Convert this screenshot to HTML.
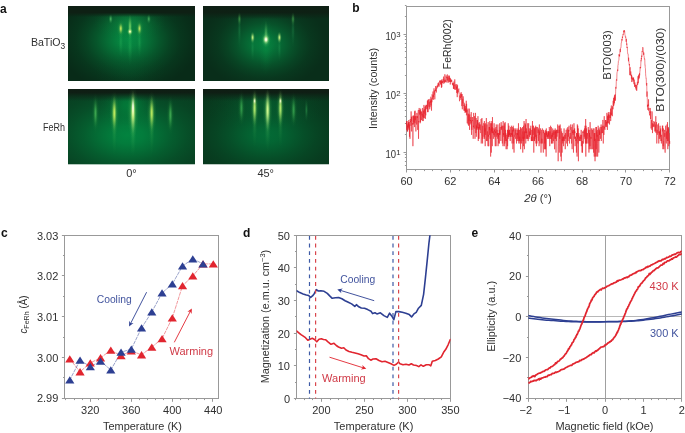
<!DOCTYPE html>
<html><head><meta charset="utf-8"><style>html,body{margin:0;padding:0;background:#fff;width:685px;height:433px;overflow:hidden}svg{display:block;will-change:transform}text{font-family:"Liberation Sans",sans-serif}</style></head>
<body><svg width="685" height="433" viewBox="0 0 685 433" font-family='"Liberation Sans", sans-serif'><defs><clipPath id="clipTL"><rect x="68" y="6" width="127" height="75"/></clipPath><radialGradient id="rg1"><stop offset="0" stop-color="#059b4a" stop-opacity="0.850"/><stop offset="0.15" stop-color="#059b4a" stop-opacity="0.765"/><stop offset="0.3" stop-color="#059b4a" stop-opacity="0.578"/><stop offset="0.45" stop-color="#059b4a" stop-opacity="0.383"/><stop offset="0.6" stop-color="#059b4a" stop-opacity="0.221"/><stop offset="0.75" stop-color="#059b4a" stop-opacity="0.102"/><stop offset="0.9" stop-color="#059b4a" stop-opacity="0.034"/><stop offset="1" stop-color="#059b4a" stop-opacity="0.000"/></radialGradient><radialGradient id="rg2"><stop offset="0" stop-color="#056432" stop-opacity="0.200"/><stop offset="0.15" stop-color="#056432" stop-opacity="0.180"/><stop offset="0.3" stop-color="#056432" stop-opacity="0.136"/><stop offset="0.45" stop-color="#056432" stop-opacity="0.090"/><stop offset="0.6" stop-color="#056432" stop-opacity="0.052"/><stop offset="0.75" stop-color="#056432" stop-opacity="0.024"/><stop offset="0.9" stop-color="#056432" stop-opacity="0.008"/><stop offset="1" stop-color="#056432" stop-opacity="0.000"/></radialGradient><radialGradient id="rg3"><stop offset="0" stop-color="#0f9b48" stop-opacity="0.500"/><stop offset="0.15" stop-color="#0f9b48" stop-opacity="0.450"/><stop offset="0.3" stop-color="#0f9b48" stop-opacity="0.340"/><stop offset="0.45" stop-color="#0f9b48" stop-opacity="0.225"/><stop offset="0.6" stop-color="#0f9b48" stop-opacity="0.130"/><stop offset="0.75" stop-color="#0f9b48" stop-opacity="0.060"/><stop offset="0.9" stop-color="#0f9b48" stop-opacity="0.020"/><stop offset="1" stop-color="#0f9b48" stop-opacity="0.000"/></radialGradient><linearGradient id="bandTL" x1="0" y1="0" x2="0" y2="1"><stop offset="0" stop-color="#0e2014" stop-opacity="1"/><stop offset="0.6" stop-color="#0e2014" stop-opacity="1"/><stop offset="1" stop-color="#0e2014" stop-opacity="0"/></linearGradient><radialGradient id="rg4"><stop offset="0" stop-color="#30c060" stop-opacity="0.300"/><stop offset="0.15" stop-color="#30c060" stop-opacity="0.270"/><stop offset="0.3" stop-color="#30c060" stop-opacity="0.204"/><stop offset="0.45" stop-color="#30c060" stop-opacity="0.135"/><stop offset="0.6" stop-color="#30c060" stop-opacity="0.078"/><stop offset="0.75" stop-color="#30c060" stop-opacity="0.036"/><stop offset="0.9" stop-color="#30c060" stop-opacity="0.012"/><stop offset="1" stop-color="#30c060" stop-opacity="0.000"/></radialGradient><radialGradient id="rg5"><stop offset="0" stop-color="#30c060" stop-opacity="0.300"/><stop offset="0.15" stop-color="#30c060" stop-opacity="0.270"/><stop offset="0.3" stop-color="#30c060" stop-opacity="0.204"/><stop offset="0.45" stop-color="#30c060" stop-opacity="0.135"/><stop offset="0.6" stop-color="#30c060" stop-opacity="0.078"/><stop offset="0.75" stop-color="#30c060" stop-opacity="0.036"/><stop offset="0.9" stop-color="#30c060" stop-opacity="0.012"/><stop offset="1" stop-color="#30c060" stop-opacity="0.000"/></radialGradient><radialGradient id="rg6"><stop offset="0" stop-color="#30c060" stop-opacity="0.300"/><stop offset="0.15" stop-color="#30c060" stop-opacity="0.270"/><stop offset="0.3" stop-color="#30c060" stop-opacity="0.204"/><stop offset="0.45" stop-color="#30c060" stop-opacity="0.135"/><stop offset="0.6" stop-color="#30c060" stop-opacity="0.078"/><stop offset="0.75" stop-color="#30c060" stop-opacity="0.036"/><stop offset="0.9" stop-color="#30c060" stop-opacity="0.012"/><stop offset="1" stop-color="#30c060" stop-opacity="0.000"/></radialGradient><radialGradient id="rg7"><stop offset="0" stop-color="#60d070" stop-opacity="0.700"/><stop offset="0.15" stop-color="#60d070" stop-opacity="0.630"/><stop offset="0.3" stop-color="#60d070" stop-opacity="0.476"/><stop offset="0.45" stop-color="#60d070" stop-opacity="0.315"/><stop offset="0.6" stop-color="#60d070" stop-opacity="0.182"/><stop offset="0.75" stop-color="#60d070" stop-opacity="0.084"/><stop offset="0.9" stop-color="#60d070" stop-opacity="0.028"/><stop offset="1" stop-color="#60d070" stop-opacity="0.000"/></radialGradient><radialGradient id="rg8"><stop offset="0" stop-color="#60d070" stop-opacity="0.600"/><stop offset="0.15" stop-color="#60d070" stop-opacity="0.540"/><stop offset="0.3" stop-color="#60d070" stop-opacity="0.408"/><stop offset="0.45" stop-color="#60d070" stop-opacity="0.270"/><stop offset="0.6" stop-color="#60d070" stop-opacity="0.156"/><stop offset="0.75" stop-color="#60d070" stop-opacity="0.072"/><stop offset="0.9" stop-color="#60d070" stop-opacity="0.024"/><stop offset="1" stop-color="#60d070" stop-opacity="0.000"/></radialGradient><radialGradient id="rg9"><stop offset="0" stop-color="#60c050" stop-opacity="0.500"/><stop offset="0.15" stop-color="#60c050" stop-opacity="0.450"/><stop offset="0.3" stop-color="#60c050" stop-opacity="0.340"/><stop offset="0.45" stop-color="#60c050" stop-opacity="0.225"/><stop offset="0.6" stop-color="#60c050" stop-opacity="0.130"/><stop offset="0.75" stop-color="#60c050" stop-opacity="0.060"/><stop offset="0.9" stop-color="#60c050" stop-opacity="0.020"/><stop offset="1" stop-color="#60c050" stop-opacity="0.000"/></radialGradient><radialGradient id="rg10"><stop offset="0" stop-color="#60c050" stop-opacity="0.500"/><stop offset="0.15" stop-color="#60c050" stop-opacity="0.450"/><stop offset="0.3" stop-color="#60c050" stop-opacity="0.340"/><stop offset="0.45" stop-color="#60c050" stop-opacity="0.225"/><stop offset="0.6" stop-color="#60c050" stop-opacity="0.130"/><stop offset="0.75" stop-color="#60c050" stop-opacity="0.060"/><stop offset="0.9" stop-color="#60c050" stop-opacity="0.020"/><stop offset="1" stop-color="#60c050" stop-opacity="0.000"/></radialGradient><radialGradient id="rg11"><stop offset="0" stop-color="#d0f060" stop-opacity="0.900"/><stop offset="0.15" stop-color="#d0f060" stop-opacity="0.810"/><stop offset="0.3" stop-color="#d0f060" stop-opacity="0.612"/><stop offset="0.45" stop-color="#d0f060" stop-opacity="0.405"/><stop offset="0.6" stop-color="#d0f060" stop-opacity="0.234"/><stop offset="0.75" stop-color="#d0f060" stop-opacity="0.108"/><stop offset="0.9" stop-color="#d0f060" stop-opacity="0.036"/><stop offset="1" stop-color="#d0f060" stop-opacity="0.000"/></radialGradient><radialGradient id="rg12"><stop offset="0" stop-color="#c0e860" stop-opacity="0.900"/><stop offset="0.15" stop-color="#c0e860" stop-opacity="0.810"/><stop offset="0.3" stop-color="#c0e860" stop-opacity="0.612"/><stop offset="0.45" stop-color="#c0e860" stop-opacity="0.405"/><stop offset="0.6" stop-color="#c0e860" stop-opacity="0.234"/><stop offset="0.75" stop-color="#c0e860" stop-opacity="0.108"/><stop offset="0.9" stop-color="#c0e860" stop-opacity="0.036"/><stop offset="1" stop-color="#c0e860" stop-opacity="0.000"/></radialGradient><radialGradient id="rg13"><stop offset="0" stop-color="#90e870" stop-opacity="0.750"/><stop offset="0.15" stop-color="#90e870" stop-opacity="0.675"/><stop offset="0.3" stop-color="#90e870" stop-opacity="0.510"/><stop offset="0.45" stop-color="#90e870" stop-opacity="0.338"/><stop offset="0.6" stop-color="#90e870" stop-opacity="0.195"/><stop offset="0.75" stop-color="#90e870" stop-opacity="0.090"/><stop offset="0.9" stop-color="#90e870" stop-opacity="0.030"/><stop offset="1" stop-color="#90e870" stop-opacity="0.000"/></radialGradient><radialGradient id="rg14"><stop offset="0" stop-color="#d8ff90" stop-opacity="1.000"/><stop offset="0.15" stop-color="#d8ff90" stop-opacity="0.900"/><stop offset="0.3" stop-color="#d8ff90" stop-opacity="0.680"/><stop offset="0.45" stop-color="#d8ff90" stop-opacity="0.450"/><stop offset="0.6" stop-color="#d8ff90" stop-opacity="0.260"/><stop offset="0.75" stop-color="#d8ff90" stop-opacity="0.120"/><stop offset="0.9" stop-color="#d8ff90" stop-opacity="0.040"/><stop offset="1" stop-color="#d8ff90" stop-opacity="0.000"/></radialGradient><radialGradient id="rg15"><stop offset="0" stop-color="#ffffe0" stop-opacity="0.900"/><stop offset="0.15" stop-color="#ffffe0" stop-opacity="0.810"/><stop offset="0.3" stop-color="#ffffe0" stop-opacity="0.612"/><stop offset="0.45" stop-color="#ffffe0" stop-opacity="0.405"/><stop offset="0.6" stop-color="#ffffe0" stop-opacity="0.234"/><stop offset="0.75" stop-color="#ffffe0" stop-opacity="0.108"/><stop offset="0.9" stop-color="#ffffe0" stop-opacity="0.036"/><stop offset="1" stop-color="#ffffe0" stop-opacity="0.000"/></radialGradient><clipPath id="clipTR"><rect x="203" y="6" width="126" height="75"/></clipPath><radialGradient id="rg16"><stop offset="0" stop-color="#058c44" stop-opacity="0.850"/><stop offset="0.15" stop-color="#058c44" stop-opacity="0.765"/><stop offset="0.3" stop-color="#058c44" stop-opacity="0.578"/><stop offset="0.45" stop-color="#058c44" stop-opacity="0.383"/><stop offset="0.6" stop-color="#058c44" stop-opacity="0.221"/><stop offset="0.75" stop-color="#058c44" stop-opacity="0.102"/><stop offset="0.9" stop-color="#058c44" stop-opacity="0.034"/><stop offset="1" stop-color="#058c44" stop-opacity="0.000"/></radialGradient><radialGradient id="rg17"><stop offset="0" stop-color="#0a9646" stop-opacity="0.400"/><stop offset="0.15" stop-color="#0a9646" stop-opacity="0.360"/><stop offset="0.3" stop-color="#0a9646" stop-opacity="0.272"/><stop offset="0.45" stop-color="#0a9646" stop-opacity="0.180"/><stop offset="0.6" stop-color="#0a9646" stop-opacity="0.104"/><stop offset="0.75" stop-color="#0a9646" stop-opacity="0.048"/><stop offset="0.9" stop-color="#0a9646" stop-opacity="0.016"/><stop offset="1" stop-color="#0a9646" stop-opacity="0.000"/></radialGradient><linearGradient id="bandTR" x1="0" y1="0" x2="0" y2="1"><stop offset="0" stop-color="#0e2014" stop-opacity="1"/><stop offset="0.5" stop-color="#0e2014" stop-opacity="0.97"/><stop offset="1" stop-color="#0e2014" stop-opacity="0"/></linearGradient><radialGradient id="rg18"><stop offset="0" stop-color="#30b060" stop-opacity="0.250"/><stop offset="0.15" stop-color="#30b060" stop-opacity="0.225"/><stop offset="0.3" stop-color="#30b060" stop-opacity="0.170"/><stop offset="0.45" stop-color="#30b060" stop-opacity="0.113"/><stop offset="0.6" stop-color="#30b060" stop-opacity="0.065"/><stop offset="0.75" stop-color="#30b060" stop-opacity="0.030"/><stop offset="0.9" stop-color="#30b060" stop-opacity="0.010"/><stop offset="1" stop-color="#30b060" stop-opacity="0.000"/></radialGradient><radialGradient id="rg19"><stop offset="0" stop-color="#30b060" stop-opacity="0.250"/><stop offset="0.15" stop-color="#30b060" stop-opacity="0.225"/><stop offset="0.3" stop-color="#30b060" stop-opacity="0.170"/><stop offset="0.45" stop-color="#30b060" stop-opacity="0.113"/><stop offset="0.6" stop-color="#30b060" stop-opacity="0.065"/><stop offset="0.75" stop-color="#30b060" stop-opacity="0.030"/><stop offset="0.9" stop-color="#30b060" stop-opacity="0.010"/><stop offset="1" stop-color="#30b060" stop-opacity="0.000"/></radialGradient><radialGradient id="rg20"><stop offset="0" stop-color="#30b060" stop-opacity="0.250"/><stop offset="0.15" stop-color="#30b060" stop-opacity="0.225"/><stop offset="0.3" stop-color="#30b060" stop-opacity="0.170"/><stop offset="0.45" stop-color="#30b060" stop-opacity="0.113"/><stop offset="0.6" stop-color="#30b060" stop-opacity="0.065"/><stop offset="0.75" stop-color="#30b060" stop-opacity="0.030"/><stop offset="0.9" stop-color="#30b060" stop-opacity="0.010"/><stop offset="1" stop-color="#30b060" stop-opacity="0.000"/></radialGradient><radialGradient id="rg21"><stop offset="0" stop-color="#30b060" stop-opacity="0.250"/><stop offset="0.15" stop-color="#30b060" stop-opacity="0.225"/><stop offset="0.3" stop-color="#30b060" stop-opacity="0.170"/><stop offset="0.45" stop-color="#30b060" stop-opacity="0.113"/><stop offset="0.6" stop-color="#30b060" stop-opacity="0.065"/><stop offset="0.75" stop-color="#30b060" stop-opacity="0.030"/><stop offset="0.9" stop-color="#30b060" stop-opacity="0.010"/><stop offset="1" stop-color="#30b060" stop-opacity="0.000"/></radialGradient><radialGradient id="rg22"><stop offset="0" stop-color="#50b050" stop-opacity="0.600"/><stop offset="0.15" stop-color="#50b050" stop-opacity="0.540"/><stop offset="0.3" stop-color="#50b050" stop-opacity="0.408"/><stop offset="0.45" stop-color="#50b050" stop-opacity="0.270"/><stop offset="0.6" stop-color="#50b050" stop-opacity="0.156"/><stop offset="0.75" stop-color="#50b050" stop-opacity="0.072"/><stop offset="0.9" stop-color="#50b050" stop-opacity="0.024"/><stop offset="1" stop-color="#50b050" stop-opacity="0.000"/></radialGradient><radialGradient id="rg23"><stop offset="0" stop-color="#50b050" stop-opacity="0.600"/><stop offset="0.15" stop-color="#50b050" stop-opacity="0.540"/><stop offset="0.3" stop-color="#50b050" stop-opacity="0.408"/><stop offset="0.45" stop-color="#50b050" stop-opacity="0.270"/><stop offset="0.6" stop-color="#50b050" stop-opacity="0.156"/><stop offset="0.75" stop-color="#50b050" stop-opacity="0.072"/><stop offset="0.9" stop-color="#50b050" stop-opacity="0.024"/><stop offset="1" stop-color="#50b050" stop-opacity="0.000"/></radialGradient><radialGradient id="rg24"><stop offset="0" stop-color="#c0f080" stop-opacity="1.000"/><stop offset="0.15" stop-color="#c0f080" stop-opacity="0.900"/><stop offset="0.3" stop-color="#c0f080" stop-opacity="0.680"/><stop offset="0.45" stop-color="#c0f080" stop-opacity="0.450"/><stop offset="0.6" stop-color="#c0f080" stop-opacity="0.260"/><stop offset="0.75" stop-color="#c0f080" stop-opacity="0.120"/><stop offset="0.9" stop-color="#c0f080" stop-opacity="0.040"/><stop offset="1" stop-color="#c0f080" stop-opacity="0.000"/></radialGradient><radialGradient id="rg25"><stop offset="0" stop-color="#c0f080" stop-opacity="1.000"/><stop offset="0.15" stop-color="#c0f080" stop-opacity="0.900"/><stop offset="0.3" stop-color="#c0f080" stop-opacity="0.680"/><stop offset="0.45" stop-color="#c0f080" stop-opacity="0.450"/><stop offset="0.6" stop-color="#c0f080" stop-opacity="0.260"/><stop offset="0.75" stop-color="#c0f080" stop-opacity="0.120"/><stop offset="0.9" stop-color="#c0f080" stop-opacity="0.040"/><stop offset="1" stop-color="#c0f080" stop-opacity="0.000"/></radialGradient><radialGradient id="rg26"><stop offset="0" stop-color="#70d070" stop-opacity="0.550"/><stop offset="0.15" stop-color="#70d070" stop-opacity="0.495"/><stop offset="0.3" stop-color="#70d070" stop-opacity="0.374"/><stop offset="0.45" stop-color="#70d070" stop-opacity="0.248"/><stop offset="0.6" stop-color="#70d070" stop-opacity="0.143"/><stop offset="0.75" stop-color="#70d070" stop-opacity="0.066"/><stop offset="0.9" stop-color="#70d070" stop-opacity="0.022"/><stop offset="1" stop-color="#70d070" stop-opacity="0.000"/></radialGradient><radialGradient id="rg27"><stop offset="0" stop-color="#a0f090" stop-opacity="0.600"/><stop offset="0.15" stop-color="#a0f090" stop-opacity="0.540"/><stop offset="0.3" stop-color="#a0f090" stop-opacity="0.408"/><stop offset="0.45" stop-color="#a0f090" stop-opacity="0.270"/><stop offset="0.6" stop-color="#a0f090" stop-opacity="0.156"/><stop offset="0.75" stop-color="#a0f090" stop-opacity="0.072"/><stop offset="0.9" stop-color="#a0f090" stop-opacity="0.024"/><stop offset="1" stop-color="#a0f090" stop-opacity="0.000"/></radialGradient><radialGradient id="rg28"><stop offset="0" stop-color="#f8ffb0" stop-opacity="1.000"/><stop offset="0.15" stop-color="#f8ffb0" stop-opacity="0.900"/><stop offset="0.3" stop-color="#f8ffb0" stop-opacity="0.680"/><stop offset="0.45" stop-color="#f8ffb0" stop-opacity="0.450"/><stop offset="0.6" stop-color="#f8ffb0" stop-opacity="0.260"/><stop offset="0.75" stop-color="#f8ffb0" stop-opacity="0.120"/><stop offset="0.9" stop-color="#f8ffb0" stop-opacity="0.040"/><stop offset="1" stop-color="#f8ffb0" stop-opacity="0.000"/></radialGradient><radialGradient id="rg29"><stop offset="0" stop-color="#ffffff" stop-opacity="1.000"/><stop offset="0.15" stop-color="#ffffff" stop-opacity="0.900"/><stop offset="0.3" stop-color="#ffffff" stop-opacity="0.680"/><stop offset="0.45" stop-color="#ffffff" stop-opacity="0.450"/><stop offset="0.6" stop-color="#ffffff" stop-opacity="0.260"/><stop offset="0.75" stop-color="#ffffff" stop-opacity="0.120"/><stop offset="0.9" stop-color="#ffffff" stop-opacity="0.040"/><stop offset="1" stop-color="#ffffff" stop-opacity="0.000"/></radialGradient><clipPath id="clipBL"><rect x="68" y="89" width="127" height="75.5"/></clipPath><radialGradient id="rg30"><stop offset="0" stop-color="#028741" stop-opacity="0.950"/><stop offset="0.15" stop-color="#028741" stop-opacity="0.855"/><stop offset="0.3" stop-color="#028741" stop-opacity="0.646"/><stop offset="0.45" stop-color="#028741" stop-opacity="0.427"/><stop offset="0.6" stop-color="#028741" stop-opacity="0.247"/><stop offset="0.75" stop-color="#028741" stop-opacity="0.114"/><stop offset="0.9" stop-color="#028741" stop-opacity="0.038"/><stop offset="1" stop-color="#028741" stop-opacity="0.000"/></radialGradient><radialGradient id="rg31"><stop offset="0" stop-color="#02823c" stop-opacity="0.800"/><stop offset="0.15" stop-color="#02823c" stop-opacity="0.720"/><stop offset="0.3" stop-color="#02823c" stop-opacity="0.544"/><stop offset="0.45" stop-color="#02823c" stop-opacity="0.360"/><stop offset="0.6" stop-color="#02823c" stop-opacity="0.208"/><stop offset="0.75" stop-color="#02823c" stop-opacity="0.096"/><stop offset="0.9" stop-color="#02823c" stop-opacity="0.032"/><stop offset="1" stop-color="#02823c" stop-opacity="0.000"/></radialGradient><linearGradient id="bandBL" x1="0" y1="0" x2="0" y2="1"><stop offset="0" stop-color="#0f1e14" stop-opacity="1"/><stop offset="0.3" stop-color="#0f1e14" stop-opacity="0.97"/><stop offset="0.6" stop-color="#0f1e14" stop-opacity="0.5"/><stop offset="1" stop-color="#0f1e14" stop-opacity="0"/></linearGradient><radialGradient id="rg32"><stop offset="0" stop-color="#40b050" stop-opacity="0.350"/><stop offset="0.15" stop-color="#40b050" stop-opacity="0.315"/><stop offset="0.3" stop-color="#40b050" stop-opacity="0.238"/><stop offset="0.45" stop-color="#40b050" stop-opacity="0.158"/><stop offset="0.6" stop-color="#40b050" stop-opacity="0.091"/><stop offset="0.75" stop-color="#40b050" stop-opacity="0.042"/><stop offset="0.9" stop-color="#40b050" stop-opacity="0.014"/><stop offset="1" stop-color="#40b050" stop-opacity="0.000"/></radialGradient><radialGradient id="rg33"><stop offset="0" stop-color="#50c060" stop-opacity="0.400"/><stop offset="0.15" stop-color="#50c060" stop-opacity="0.360"/><stop offset="0.3" stop-color="#50c060" stop-opacity="0.272"/><stop offset="0.45" stop-color="#50c060" stop-opacity="0.180"/><stop offset="0.6" stop-color="#50c060" stop-opacity="0.104"/><stop offset="0.75" stop-color="#50c060" stop-opacity="0.048"/><stop offset="0.9" stop-color="#50c060" stop-opacity="0.016"/><stop offset="1" stop-color="#50c060" stop-opacity="0.000"/></radialGradient><radialGradient id="rg34"><stop offset="0" stop-color="#40b050" stop-opacity="0.350"/><stop offset="0.15" stop-color="#40b050" stop-opacity="0.315"/><stop offset="0.3" stop-color="#40b050" stop-opacity="0.238"/><stop offset="0.45" stop-color="#40b050" stop-opacity="0.158"/><stop offset="0.6" stop-color="#40b050" stop-opacity="0.091"/><stop offset="0.75" stop-color="#40b050" stop-opacity="0.042"/><stop offset="0.9" stop-color="#40b050" stop-opacity="0.014"/><stop offset="1" stop-color="#40b050" stop-opacity="0.000"/></radialGradient><radialGradient id="rg35"><stop offset="0" stop-color="#30a040" stop-opacity="0.500"/><stop offset="0.15" stop-color="#30a040" stop-opacity="0.450"/><stop offset="0.3" stop-color="#30a040" stop-opacity="0.340"/><stop offset="0.45" stop-color="#30a040" stop-opacity="0.225"/><stop offset="0.6" stop-color="#30a040" stop-opacity="0.130"/><stop offset="0.75" stop-color="#30a040" stop-opacity="0.060"/><stop offset="0.9" stop-color="#30a040" stop-opacity="0.020"/><stop offset="1" stop-color="#30a040" stop-opacity="0.000"/></radialGradient><radialGradient id="rg36"><stop offset="0" stop-color="#60c050" stop-opacity="0.600"/><stop offset="0.15" stop-color="#60c050" stop-opacity="0.540"/><stop offset="0.3" stop-color="#60c050" stop-opacity="0.408"/><stop offset="0.45" stop-color="#60c050" stop-opacity="0.270"/><stop offset="0.6" stop-color="#60c050" stop-opacity="0.156"/><stop offset="0.75" stop-color="#60c050" stop-opacity="0.072"/><stop offset="0.9" stop-color="#60c050" stop-opacity="0.024"/><stop offset="1" stop-color="#60c050" stop-opacity="0.000"/></radialGradient><radialGradient id="rg37"><stop offset="0" stop-color="#70d060" stop-opacity="0.600"/><stop offset="0.15" stop-color="#70d060" stop-opacity="0.540"/><stop offset="0.3" stop-color="#70d060" stop-opacity="0.408"/><stop offset="0.45" stop-color="#70d060" stop-opacity="0.270"/><stop offset="0.6" stop-color="#70d060" stop-opacity="0.156"/><stop offset="0.75" stop-color="#70d060" stop-opacity="0.072"/><stop offset="0.9" stop-color="#70d060" stop-opacity="0.024"/><stop offset="1" stop-color="#70d060" stop-opacity="0.000"/></radialGradient><radialGradient id="rg38"><stop offset="0" stop-color="#60c050" stop-opacity="0.600"/><stop offset="0.15" stop-color="#60c050" stop-opacity="0.540"/><stop offset="0.3" stop-color="#60c050" stop-opacity="0.408"/><stop offset="0.45" stop-color="#60c050" stop-opacity="0.270"/><stop offset="0.6" stop-color="#60c050" stop-opacity="0.156"/><stop offset="0.75" stop-color="#60c050" stop-opacity="0.072"/><stop offset="0.9" stop-color="#60c050" stop-opacity="0.024"/><stop offset="1" stop-color="#60c050" stop-opacity="0.000"/></radialGradient><radialGradient id="rg39"><stop offset="0" stop-color="#30a040" stop-opacity="0.500"/><stop offset="0.15" stop-color="#30a040" stop-opacity="0.450"/><stop offset="0.3" stop-color="#30a040" stop-opacity="0.340"/><stop offset="0.45" stop-color="#30a040" stop-opacity="0.225"/><stop offset="0.6" stop-color="#30a040" stop-opacity="0.130"/><stop offset="0.75" stop-color="#30a040" stop-opacity="0.060"/><stop offset="0.9" stop-color="#30a040" stop-opacity="0.020"/><stop offset="1" stop-color="#30a040" stop-opacity="0.000"/></radialGradient><radialGradient id="rg40"><stop offset="0" stop-color="#50c060" stop-opacity="0.600"/><stop offset="0.15" stop-color="#50c060" stop-opacity="0.540"/><stop offset="0.3" stop-color="#50c060" stop-opacity="0.408"/><stop offset="0.45" stop-color="#50c060" stop-opacity="0.270"/><stop offset="0.6" stop-color="#50c060" stop-opacity="0.156"/><stop offset="0.75" stop-color="#50c060" stop-opacity="0.072"/><stop offset="0.9" stop-color="#50c060" stop-opacity="0.024"/><stop offset="1" stop-color="#50c060" stop-opacity="0.000"/></radialGradient><radialGradient id="rg41"><stop offset="0" stop-color="#c8f060" stop-opacity="0.950"/><stop offset="0.15" stop-color="#c8f060" stop-opacity="0.855"/><stop offset="0.3" stop-color="#c8f060" stop-opacity="0.646"/><stop offset="0.45" stop-color="#c8f060" stop-opacity="0.427"/><stop offset="0.6" stop-color="#c8f060" stop-opacity="0.247"/><stop offset="0.75" stop-color="#c8f060" stop-opacity="0.114"/><stop offset="0.9" stop-color="#c8f060" stop-opacity="0.038"/><stop offset="1" stop-color="#c8f060" stop-opacity="0.000"/></radialGradient><radialGradient id="rg42"><stop offset="0" stop-color="#e8ff90" stop-opacity="1.000"/><stop offset="0.15" stop-color="#e8ff90" stop-opacity="0.900"/><stop offset="0.3" stop-color="#e8ff90" stop-opacity="0.680"/><stop offset="0.45" stop-color="#e8ff90" stop-opacity="0.450"/><stop offset="0.6" stop-color="#e8ff90" stop-opacity="0.260"/><stop offset="0.75" stop-color="#e8ff90" stop-opacity="0.120"/><stop offset="0.9" stop-color="#e8ff90" stop-opacity="0.040"/><stop offset="1" stop-color="#e8ff90" stop-opacity="0.000"/></radialGradient><radialGradient id="rg43"><stop offset="0" stop-color="#ffffff" stop-opacity="0.950"/><stop offset="0.15" stop-color="#ffffff" stop-opacity="0.855"/><stop offset="0.3" stop-color="#ffffff" stop-opacity="0.646"/><stop offset="0.45" stop-color="#ffffff" stop-opacity="0.427"/><stop offset="0.6" stop-color="#ffffff" stop-opacity="0.247"/><stop offset="0.75" stop-color="#ffffff" stop-opacity="0.114"/><stop offset="0.9" stop-color="#ffffff" stop-opacity="0.038"/><stop offset="1" stop-color="#ffffff" stop-opacity="0.000"/></radialGradient><radialGradient id="rg44"><stop offset="0" stop-color="#c0ec60" stop-opacity="0.950"/><stop offset="0.15" stop-color="#c0ec60" stop-opacity="0.855"/><stop offset="0.3" stop-color="#c0ec60" stop-opacity="0.646"/><stop offset="0.45" stop-color="#c0ec60" stop-opacity="0.427"/><stop offset="0.6" stop-color="#c0ec60" stop-opacity="0.247"/><stop offset="0.75" stop-color="#c0ec60" stop-opacity="0.114"/><stop offset="0.9" stop-color="#c0ec60" stop-opacity="0.038"/><stop offset="1" stop-color="#c0ec60" stop-opacity="0.000"/></radialGradient><radialGradient id="rg45"><stop offset="0" stop-color="#50c060" stop-opacity="0.600"/><stop offset="0.15" stop-color="#50c060" stop-opacity="0.540"/><stop offset="0.3" stop-color="#50c060" stop-opacity="0.408"/><stop offset="0.45" stop-color="#50c060" stop-opacity="0.270"/><stop offset="0.6" stop-color="#50c060" stop-opacity="0.156"/><stop offset="0.75" stop-color="#50c060" stop-opacity="0.072"/><stop offset="0.9" stop-color="#50c060" stop-opacity="0.024"/><stop offset="1" stop-color="#50c060" stop-opacity="0.000"/></radialGradient><clipPath id="clipBR"><rect x="203" y="89" width="126" height="75.5"/></clipPath><radialGradient id="rg46"><stop offset="0" stop-color="#02783c" stop-opacity="0.800"/><stop offset="0.15" stop-color="#02783c" stop-opacity="0.720"/><stop offset="0.3" stop-color="#02783c" stop-opacity="0.544"/><stop offset="0.45" stop-color="#02783c" stop-opacity="0.360"/><stop offset="0.6" stop-color="#02783c" stop-opacity="0.208"/><stop offset="0.75" stop-color="#02783c" stop-opacity="0.096"/><stop offset="0.9" stop-color="#02783c" stop-opacity="0.032"/><stop offset="1" stop-color="#02783c" stop-opacity="0.000"/></radialGradient><radialGradient id="rg47"><stop offset="0" stop-color="#056432" stop-opacity="0.600"/><stop offset="0.15" stop-color="#056432" stop-opacity="0.540"/><stop offset="0.3" stop-color="#056432" stop-opacity="0.408"/><stop offset="0.45" stop-color="#056432" stop-opacity="0.270"/><stop offset="0.6" stop-color="#056432" stop-opacity="0.156"/><stop offset="0.75" stop-color="#056432" stop-opacity="0.072"/><stop offset="0.9" stop-color="#056432" stop-opacity="0.024"/><stop offset="1" stop-color="#056432" stop-opacity="0.000"/></radialGradient><linearGradient id="bandBR" x1="0" y1="0" x2="0" y2="1"><stop offset="0" stop-color="#0f1e14" stop-opacity="1"/><stop offset="0.3" stop-color="#0f1e14" stop-opacity="0.97"/><stop offset="0.6" stop-color="#0f1e14" stop-opacity="0.5"/><stop offset="1" stop-color="#0f1e14" stop-opacity="0"/></linearGradient><radialGradient id="rg48"><stop offset="0" stop-color="#40b050" stop-opacity="0.300"/><stop offset="0.15" stop-color="#40b050" stop-opacity="0.270"/><stop offset="0.3" stop-color="#40b050" stop-opacity="0.204"/><stop offset="0.45" stop-color="#40b050" stop-opacity="0.135"/><stop offset="0.6" stop-color="#40b050" stop-opacity="0.078"/><stop offset="0.75" stop-color="#40b050" stop-opacity="0.036"/><stop offset="0.9" stop-color="#40b050" stop-opacity="0.012"/><stop offset="1" stop-color="#40b050" stop-opacity="0.000"/></radialGradient><radialGradient id="rg49"><stop offset="0" stop-color="#50c060" stop-opacity="0.350"/><stop offset="0.15" stop-color="#50c060" stop-opacity="0.315"/><stop offset="0.3" stop-color="#50c060" stop-opacity="0.238"/><stop offset="0.45" stop-color="#50c060" stop-opacity="0.158"/><stop offset="0.6" stop-color="#50c060" stop-opacity="0.091"/><stop offset="0.75" stop-color="#50c060" stop-opacity="0.042"/><stop offset="0.9" stop-color="#50c060" stop-opacity="0.014"/><stop offset="1" stop-color="#50c060" stop-opacity="0.000"/></radialGradient><radialGradient id="rg50"><stop offset="0" stop-color="#40b050" stop-opacity="0.300"/><stop offset="0.15" stop-color="#40b050" stop-opacity="0.270"/><stop offset="0.3" stop-color="#40b050" stop-opacity="0.204"/><stop offset="0.45" stop-color="#40b050" stop-opacity="0.135"/><stop offset="0.6" stop-color="#40b050" stop-opacity="0.078"/><stop offset="0.75" stop-color="#40b050" stop-opacity="0.036"/><stop offset="0.9" stop-color="#40b050" stop-opacity="0.012"/><stop offset="1" stop-color="#40b050" stop-opacity="0.000"/></radialGradient><radialGradient id="rg51"><stop offset="0" stop-color="#30a040" stop-opacity="0.450"/><stop offset="0.15" stop-color="#30a040" stop-opacity="0.405"/><stop offset="0.3" stop-color="#30a040" stop-opacity="0.306"/><stop offset="0.45" stop-color="#30a040" stop-opacity="0.203"/><stop offset="0.6" stop-color="#30a040" stop-opacity="0.117"/><stop offset="0.75" stop-color="#30a040" stop-opacity="0.054"/><stop offset="0.9" stop-color="#30a040" stop-opacity="0.018"/><stop offset="1" stop-color="#30a040" stop-opacity="0.000"/></radialGradient><radialGradient id="rg52"><stop offset="0" stop-color="#60c050" stop-opacity="0.550"/><stop offset="0.15" stop-color="#60c050" stop-opacity="0.495"/><stop offset="0.3" stop-color="#60c050" stop-opacity="0.374"/><stop offset="0.45" stop-color="#60c050" stop-opacity="0.248"/><stop offset="0.6" stop-color="#60c050" stop-opacity="0.143"/><stop offset="0.75" stop-color="#60c050" stop-opacity="0.066"/><stop offset="0.9" stop-color="#60c050" stop-opacity="0.022"/><stop offset="1" stop-color="#60c050" stop-opacity="0.000"/></radialGradient><radialGradient id="rg53"><stop offset="0" stop-color="#70d060" stop-opacity="0.550"/><stop offset="0.15" stop-color="#70d060" stop-opacity="0.495"/><stop offset="0.3" stop-color="#70d060" stop-opacity="0.374"/><stop offset="0.45" stop-color="#70d060" stop-opacity="0.248"/><stop offset="0.6" stop-color="#70d060" stop-opacity="0.143"/><stop offset="0.75" stop-color="#70d060" stop-opacity="0.066"/><stop offset="0.9" stop-color="#70d060" stop-opacity="0.022"/><stop offset="1" stop-color="#70d060" stop-opacity="0.000"/></radialGradient><radialGradient id="rg54"><stop offset="0" stop-color="#60c050" stop-opacity="0.550"/><stop offset="0.15" stop-color="#60c050" stop-opacity="0.495"/><stop offset="0.3" stop-color="#60c050" stop-opacity="0.374"/><stop offset="0.45" stop-color="#60c050" stop-opacity="0.248"/><stop offset="0.6" stop-color="#60c050" stop-opacity="0.143"/><stop offset="0.75" stop-color="#60c050" stop-opacity="0.066"/><stop offset="0.9" stop-color="#60c050" stop-opacity="0.022"/><stop offset="1" stop-color="#60c050" stop-opacity="0.000"/></radialGradient><radialGradient id="rg55"><stop offset="0" stop-color="#30a040" stop-opacity="0.450"/><stop offset="0.15" stop-color="#30a040" stop-opacity="0.405"/><stop offset="0.3" stop-color="#30a040" stop-opacity="0.306"/><stop offset="0.45" stop-color="#30a040" stop-opacity="0.203"/><stop offset="0.6" stop-color="#30a040" stop-opacity="0.117"/><stop offset="0.75" stop-color="#30a040" stop-opacity="0.054"/><stop offset="0.9" stop-color="#30a040" stop-opacity="0.018"/><stop offset="1" stop-color="#30a040" stop-opacity="0.000"/></radialGradient><radialGradient id="rg56"><stop offset="0" stop-color="#40b058" stop-opacity="0.600"/><stop offset="0.15" stop-color="#40b058" stop-opacity="0.540"/><stop offset="0.3" stop-color="#40b058" stop-opacity="0.408"/><stop offset="0.45" stop-color="#40b058" stop-opacity="0.270"/><stop offset="0.6" stop-color="#40b058" stop-opacity="0.156"/><stop offset="0.75" stop-color="#40b058" stop-opacity="0.072"/><stop offset="0.9" stop-color="#40b058" stop-opacity="0.024"/><stop offset="1" stop-color="#40b058" stop-opacity="0.000"/></radialGradient><radialGradient id="rg57"><stop offset="0" stop-color="#b8ec70" stop-opacity="0.950"/><stop offset="0.15" stop-color="#b8ec70" stop-opacity="0.855"/><stop offset="0.3" stop-color="#b8ec70" stop-opacity="0.646"/><stop offset="0.45" stop-color="#b8ec70" stop-opacity="0.427"/><stop offset="0.6" stop-color="#b8ec70" stop-opacity="0.247"/><stop offset="0.75" stop-color="#b8ec70" stop-opacity="0.114"/><stop offset="0.9" stop-color="#b8ec70" stop-opacity="0.038"/><stop offset="1" stop-color="#b8ec70" stop-opacity="0.000"/></radialGradient><radialGradient id="rg58"><stop offset="0" stop-color="#f8ffd0" stop-opacity="0.950"/><stop offset="0.15" stop-color="#f8ffd0" stop-opacity="0.855"/><stop offset="0.3" stop-color="#f8ffd0" stop-opacity="0.646"/><stop offset="0.45" stop-color="#f8ffd0" stop-opacity="0.427"/><stop offset="0.6" stop-color="#f8ffd0" stop-opacity="0.247"/><stop offset="0.75" stop-color="#f8ffd0" stop-opacity="0.114"/><stop offset="0.9" stop-color="#f8ffd0" stop-opacity="0.038"/><stop offset="1" stop-color="#f8ffd0" stop-opacity="0.000"/></radialGradient><radialGradient id="rg59"><stop offset="0" stop-color="#d0f890" stop-opacity="1.000"/><stop offset="0.15" stop-color="#d0f890" stop-opacity="0.900"/><stop offset="0.3" stop-color="#d0f890" stop-opacity="0.680"/><stop offset="0.45" stop-color="#d0f890" stop-opacity="0.450"/><stop offset="0.6" stop-color="#d0f890" stop-opacity="0.260"/><stop offset="0.75" stop-color="#d0f890" stop-opacity="0.120"/><stop offset="0.9" stop-color="#d0f890" stop-opacity="0.040"/><stop offset="1" stop-color="#d0f890" stop-opacity="0.000"/></radialGradient><radialGradient id="rg60"><stop offset="0" stop-color="#b8ec70" stop-opacity="0.950"/><stop offset="0.15" stop-color="#b8ec70" stop-opacity="0.855"/><stop offset="0.3" stop-color="#b8ec70" stop-opacity="0.646"/><stop offset="0.45" stop-color="#b8ec70" stop-opacity="0.427"/><stop offset="0.6" stop-color="#b8ec70" stop-opacity="0.247"/><stop offset="0.75" stop-color="#b8ec70" stop-opacity="0.114"/><stop offset="0.9" stop-color="#b8ec70" stop-opacity="0.038"/><stop offset="1" stop-color="#b8ec70" stop-opacity="0.000"/></radialGradient><radialGradient id="rg61"><stop offset="0" stop-color="#f8ffd0" stop-opacity="0.950"/><stop offset="0.15" stop-color="#f8ffd0" stop-opacity="0.855"/><stop offset="0.3" stop-color="#f8ffd0" stop-opacity="0.646"/><stop offset="0.45" stop-color="#f8ffd0" stop-opacity="0.427"/><stop offset="0.6" stop-color="#f8ffd0" stop-opacity="0.247"/><stop offset="0.75" stop-color="#f8ffd0" stop-opacity="0.114"/><stop offset="0.9" stop-color="#f8ffd0" stop-opacity="0.038"/><stop offset="1" stop-color="#f8ffd0" stop-opacity="0.000"/></radialGradient><radialGradient id="rg62"><stop offset="0" stop-color="#40b058" stop-opacity="0.600"/><stop offset="0.15" stop-color="#40b058" stop-opacity="0.540"/><stop offset="0.3" stop-color="#40b058" stop-opacity="0.408"/><stop offset="0.45" stop-color="#40b058" stop-opacity="0.270"/><stop offset="0.6" stop-color="#40b058" stop-opacity="0.156"/><stop offset="0.75" stop-color="#40b058" stop-opacity="0.072"/><stop offset="0.9" stop-color="#40b058" stop-opacity="0.024"/><stop offset="1" stop-color="#40b058" stop-opacity="0.000"/></radialGradient><radialGradient id="rg63"><stop offset="0" stop-color="#30a050" stop-opacity="0.500"/><stop offset="0.15" stop-color="#30a050" stop-opacity="0.450"/><stop offset="0.3" stop-color="#30a050" stop-opacity="0.340"/><stop offset="0.45" stop-color="#30a050" stop-opacity="0.225"/><stop offset="0.6" stop-color="#30a050" stop-opacity="0.130"/><stop offset="0.75" stop-color="#30a050" stop-opacity="0.060"/><stop offset="0.9" stop-color="#30a050" stop-opacity="0.020"/><stop offset="1" stop-color="#30a050" stop-opacity="0.000"/></radialGradient></defs><rect width="685" height="433" fill="#fff"/><g clip-path="url(#clipTL)">
<rect x="68" y="6" width="127" height="75" fill="#082b18"/>
<ellipse cx="128" cy="40" rx="70" ry="52" fill="url(#rg1)"/>
<ellipse cx="130" cy="70" rx="36" ry="30" fill="url(#rg2)"/>
<ellipse cx="130" cy="22" rx="36" ry="18" fill="url(#rg3)"/>
<rect x="68" y="6" width="127" height="11" fill="url(#bandTL)"/>
<ellipse cx="120.8" cy="42" rx="2.6" ry="16" fill="url(#rg4)"/>
<ellipse cx="139.5" cy="42" rx="2.6" ry="16" fill="url(#rg5)"/>
<ellipse cx="130" cy="46" rx="3" ry="20" fill="url(#rg6)"/>
<ellipse cx="110.7" cy="19" rx="2.2" ry="5" fill="url(#rg7)"/>
<ellipse cx="148.8" cy="19" rx="2.2" ry="5" fill="url(#rg8)"/>
<ellipse cx="120.8" cy="28.6" rx="4" ry="9" fill="url(#rg9)"/>
<ellipse cx="139.5" cy="28.6" rx="4" ry="9" fill="url(#rg10)"/>
<ellipse cx="120.8" cy="28.6" rx="2.2" ry="6" fill="url(#rg11)"/>
<ellipse cx="139.5" cy="28.6" rx="2.2" ry="6" fill="url(#rg12)"/>
<ellipse cx="130" cy="27" rx="2.4" ry="13" fill="url(#rg13)"/>
<ellipse cx="130" cy="31.6" rx="3" ry="3.6" fill="url(#rg14)"/>
<ellipse cx="130" cy="31.6" rx="1.4" ry="1.6" fill="url(#rg15)"/>
</g>
<g clip-path="url(#clipTR)">
<rect x="203" y="6" width="126" height="75" fill="#092e1a"/>
<ellipse cx="264" cy="44" rx="62" ry="46" fill="url(#rg16)"/>
<ellipse cx="266" cy="45" rx="8" ry="30" fill="url(#rg17)"/>
<rect x="203" y="6" width="126" height="13" fill="url(#bandTR)"/>
<ellipse cx="239.4" cy="30" rx="2.2" ry="18" fill="url(#rg18)"/>
<ellipse cx="293" cy="30" rx="2.2" ry="18" fill="url(#rg19)"/>
<ellipse cx="252.6" cy="48" rx="2.2" ry="14" fill="url(#rg20)"/>
<ellipse cx="279.4" cy="48" rx="2.2" ry="14" fill="url(#rg21)"/>
<ellipse cx="239.4" cy="19" rx="2.2" ry="7" fill="url(#rg22)"/>
<ellipse cx="293" cy="19" rx="2.2" ry="7" fill="url(#rg23)"/>
<ellipse cx="252.6" cy="37.5" rx="2.4" ry="6" fill="url(#rg24)"/>
<ellipse cx="279.4" cy="37.5" rx="2.4" ry="6" fill="url(#rg25)"/>
<ellipse cx="266" cy="34" rx="2.4" ry="14" fill="url(#rg26)"/>
<ellipse cx="266" cy="39.5" rx="5" ry="8" fill="url(#rg27)"/>
<ellipse cx="266" cy="39.5" rx="3.4" ry="5" fill="url(#rg28)"/>
<ellipse cx="266" cy="39.5" rx="2" ry="3" fill="url(#rg29)"/>
</g>
<g clip-path="url(#clipBL)">
<rect x="68" y="89" width="127" height="75.5" fill="#083c20"/>
<ellipse cx="128" cy="135" rx="100" ry="58" fill="url(#rg30)"/>
<ellipse cx="128" cy="105" rx="32" ry="26" fill="url(#rg31)"/>
<rect x="68" y="89" width="127" height="12" fill="url(#bandBL)"/>
<ellipse cx="114.3" cy="125" rx="3" ry="30" fill="url(#rg32)"/>
<ellipse cx="133" cy="125" rx="3.5" ry="32" fill="url(#rg33)"/>
<ellipse cx="151.7" cy="125" rx="3" ry="30" fill="url(#rg34)"/>
<ellipse cx="95.5" cy="113" rx="4" ry="20" fill="url(#rg35)"/>
<ellipse cx="114.3" cy="113" rx="5" ry="22" fill="url(#rg36)"/>
<ellipse cx="133" cy="112" rx="6" ry="26" fill="url(#rg37)"/>
<ellipse cx="151.7" cy="113" rx="5" ry="22" fill="url(#rg38)"/>
<ellipse cx="170.4" cy="115" rx="4" ry="20" fill="url(#rg39)"/>
<ellipse cx="95.5" cy="113" rx="2.2" ry="16" fill="url(#rg40)"/>
<ellipse cx="114.3" cy="113" rx="2.6" ry="18" fill="url(#rg41)"/>
<ellipse cx="133" cy="112" rx="3" ry="22" fill="url(#rg42)"/>
<ellipse cx="133" cy="107" rx="1.6" ry="11" fill="url(#rg43)"/>
<ellipse cx="151.7" cy="113" rx="2.6" ry="18" fill="url(#rg44)"/>
<ellipse cx="170.4" cy="115" rx="2.2" ry="16" fill="url(#rg45)"/>
</g>
<g clip-path="url(#clipBR)">
<rect x="203" y="89" width="126" height="75.5" fill="#08371d"/>
<ellipse cx="266" cy="135" rx="84" ry="52" fill="url(#rg46)"/>
<ellipse cx="264" cy="105" rx="60" ry="26" fill="url(#rg47)"/>
<rect x="203" y="89" width="126" height="12" fill="url(#bandBR)"/>
<ellipse cx="254.6" cy="120" rx="3" ry="28" fill="url(#rg48)"/>
<ellipse cx="267.6" cy="122" rx="3.5" ry="30" fill="url(#rg49)"/>
<ellipse cx="280.4" cy="120" rx="3" ry="28" fill="url(#rg50)"/>
<ellipse cx="241.4" cy="108" rx="4" ry="18" fill="url(#rg51)"/>
<ellipse cx="254.6" cy="108" rx="4.5" ry="20" fill="url(#rg52)"/>
<ellipse cx="267.6" cy="110" rx="5" ry="22" fill="url(#rg53)"/>
<ellipse cx="280.4" cy="108" rx="4.5" ry="20" fill="url(#rg54)"/>
<ellipse cx="293.6" cy="110" rx="4" ry="18" fill="url(#rg55)"/>
<ellipse cx="241.4" cy="108" rx="2.2" ry="15" fill="url(#rg56)"/>
<ellipse cx="254.6" cy="108" rx="2.5" ry="18" fill="url(#rg57)"/>
<ellipse cx="254.6" cy="101" rx="1.8" ry="4" fill="url(#rg58)"/>
<ellipse cx="267.6" cy="110" rx="2.8" ry="21" fill="url(#rg59)"/>
<ellipse cx="280.4" cy="108" rx="2.5" ry="18" fill="url(#rg60)"/>
<ellipse cx="280.4" cy="101" rx="1.8" ry="4" fill="url(#rg61)"/>
<ellipse cx="293.6" cy="110" rx="2.2" ry="15" fill="url(#rg62)"/>
<ellipse cx="306.4" cy="110" rx="2.0" ry="12" fill="url(#rg63)"/>
</g>
<text x="0" y="12.5" font-size="12" text-anchor="start" fill="#111" font-weight="bold" >a</text>
<text x="65.2" y="46" font-size="10.6" text-anchor="end" fill="#303030" font-weight="normal" >BaTiO<tspan font-size="8.4" dy="2.8">3</tspan></text>
<text x="65" y="130.8" font-size="11" text-anchor="end" fill="#303030" font-weight="normal" textLength="22" lengthAdjust="spacingAndGlyphs" >FeRh</text>
<text x="131.5" y="176.9" font-size="11" text-anchor="middle" fill="#303030" font-weight="normal" >0°</text>
<text x="265.7" y="176.9" font-size="11" text-anchor="middle" fill="#303030" font-weight="normal" >45°</text>
<text x="352.3" y="12.3" font-size="12" text-anchor="start" fill="#111" font-weight="bold" >b</text>
<line x1="404.90" y1="165.50" x2="406.50" y2="165.50" stroke="#999999" stroke-width="1" />
<line x1="404.90" y1="161.50" x2="406.50" y2="161.50" stroke="#999999" stroke-width="1" />
<line x1="404.90" y1="157.50" x2="406.50" y2="157.50" stroke="#999999" stroke-width="1" />
<line x1="404.90" y1="154.50" x2="406.50" y2="154.50" stroke="#999999" stroke-width="1" />
<line x1="403.50" y1="152.50" x2="406.50" y2="152.50" stroke="#999999" stroke-width="1" />
<line x1="404.90" y1="134.50" x2="406.50" y2="134.50" stroke="#999999" stroke-width="1" />
<line x1="404.90" y1="123.50" x2="406.50" y2="123.50" stroke="#999999" stroke-width="1" />
<line x1="404.90" y1="116.50" x2="406.50" y2="116.50" stroke="#999999" stroke-width="1" />
<line x1="404.90" y1="110.50" x2="406.50" y2="110.50" stroke="#999999" stroke-width="1" />
<line x1="404.90" y1="106.50" x2="406.50" y2="106.50" stroke="#999999" stroke-width="1" />
<line x1="404.90" y1="102.50" x2="406.50" y2="102.50" stroke="#999999" stroke-width="1" />
<line x1="404.90" y1="98.50" x2="406.50" y2="98.50" stroke="#999999" stroke-width="1" />
<line x1="404.90" y1="95.50" x2="406.50" y2="95.50" stroke="#999999" stroke-width="1" />
<line x1="403.50" y1="93.50" x2="406.50" y2="93.50" stroke="#999999" stroke-width="1" />
<line x1="404.90" y1="75.50" x2="406.50" y2="75.50" stroke="#999999" stroke-width="1" />
<line x1="404.90" y1="64.50" x2="406.50" y2="64.50" stroke="#999999" stroke-width="1" />
<line x1="404.90" y1="57.50" x2="406.50" y2="57.50" stroke="#999999" stroke-width="1" />
<line x1="404.90" y1="51.50" x2="406.50" y2="51.50" stroke="#999999" stroke-width="1" />
<line x1="404.90" y1="47.50" x2="406.50" y2="47.50" stroke="#999999" stroke-width="1" />
<line x1="404.90" y1="43.50" x2="406.50" y2="43.50" stroke="#999999" stroke-width="1" />
<line x1="404.90" y1="39.50" x2="406.50" y2="39.50" stroke="#999999" stroke-width="1" />
<line x1="404.90" y1="36.50" x2="406.50" y2="36.50" stroke="#999999" stroke-width="1" />
<line x1="403.50" y1="34.50" x2="406.50" y2="34.50" stroke="#999999" stroke-width="1" />
<line x1="404.90" y1="16.50" x2="406.50" y2="16.50" stroke="#999999" stroke-width="1" />
<line x1="404.90" y1="5.50" x2="406.50" y2="5.50" stroke="#999999" stroke-width="1" />
<text x="396" y="157.7" font-size="11" text-anchor="end" fill="#303030" font-weight="normal" textLength="10.6" lengthAdjust="spacingAndGlyphs" >10</text>
<text x="396.2" y="154.79999999999998" font-size="7.8" text-anchor="start" fill="#303030" font-weight="normal" >1</text>
<text x="396" y="98.69999999999999" font-size="11" text-anchor="end" fill="#303030" font-weight="normal" textLength="10.6" lengthAdjust="spacingAndGlyphs" >10</text>
<text x="396.2" y="95.8" font-size="7.8" text-anchor="start" fill="#303030" font-weight="normal" >2</text>
<text x="396" y="39.699999999999996" font-size="11" text-anchor="end" fill="#303030" font-weight="normal" textLength="10.6" lengthAdjust="spacingAndGlyphs" >10</text>
<text x="396.2" y="36.8" font-size="7.8" text-anchor="start" fill="#303030" font-weight="normal" >3</text>
<line x1="406.50" y1="169.50" x2="406.50" y2="172.50" stroke="#999999" stroke-width="1" />
<line x1="415.50" y1="169.50" x2="415.50" y2="171.10" stroke="#999999" stroke-width="1" />
<line x1="424.50" y1="169.50" x2="424.50" y2="171.10" stroke="#999999" stroke-width="1" />
<line x1="432.50" y1="169.50" x2="432.50" y2="171.10" stroke="#999999" stroke-width="1" />
<line x1="441.50" y1="169.50" x2="441.50" y2="171.10" stroke="#999999" stroke-width="1" />
<line x1="450.50" y1="169.50" x2="450.50" y2="172.50" stroke="#999999" stroke-width="1" />
<line x1="459.50" y1="169.50" x2="459.50" y2="171.10" stroke="#999999" stroke-width="1" />
<line x1="467.50" y1="169.50" x2="467.50" y2="171.10" stroke="#999999" stroke-width="1" />
<line x1="476.50" y1="169.50" x2="476.50" y2="171.10" stroke="#999999" stroke-width="1" />
<line x1="485.50" y1="169.50" x2="485.50" y2="171.10" stroke="#999999" stroke-width="1" />
<line x1="494.50" y1="169.50" x2="494.50" y2="172.50" stroke="#999999" stroke-width="1" />
<line x1="503.50" y1="169.50" x2="503.50" y2="171.10" stroke="#999999" stroke-width="1" />
<line x1="511.50" y1="169.50" x2="511.50" y2="171.10" stroke="#999999" stroke-width="1" />
<line x1="520.50" y1="169.50" x2="520.50" y2="171.10" stroke="#999999" stroke-width="1" />
<line x1="529.50" y1="169.50" x2="529.50" y2="171.10" stroke="#999999" stroke-width="1" />
<line x1="538.50" y1="169.50" x2="538.50" y2="172.50" stroke="#999999" stroke-width="1" />
<line x1="546.50" y1="169.50" x2="546.50" y2="171.10" stroke="#999999" stroke-width="1" />
<line x1="555.50" y1="169.50" x2="555.50" y2="171.10" stroke="#999999" stroke-width="1" />
<line x1="564.50" y1="169.50" x2="564.50" y2="171.10" stroke="#999999" stroke-width="1" />
<line x1="573.50" y1="169.50" x2="573.50" y2="171.10" stroke="#999999" stroke-width="1" />
<line x1="582.50" y1="169.50" x2="582.50" y2="172.50" stroke="#999999" stroke-width="1" />
<line x1="590.50" y1="169.50" x2="590.50" y2="171.10" stroke="#999999" stroke-width="1" />
<line x1="599.50" y1="169.50" x2="599.50" y2="171.10" stroke="#999999" stroke-width="1" />
<line x1="608.50" y1="169.50" x2="608.50" y2="171.10" stroke="#999999" stroke-width="1" />
<line x1="617.50" y1="169.50" x2="617.50" y2="171.10" stroke="#999999" stroke-width="1" />
<line x1="625.50" y1="169.50" x2="625.50" y2="172.50" stroke="#999999" stroke-width="1" />
<line x1="634.50" y1="169.50" x2="634.50" y2="171.10" stroke="#999999" stroke-width="1" />
<line x1="643.50" y1="169.50" x2="643.50" y2="171.10" stroke="#999999" stroke-width="1" />
<line x1="652.50" y1="169.50" x2="652.50" y2="171.10" stroke="#999999" stroke-width="1" />
<line x1="661.50" y1="169.50" x2="661.50" y2="171.10" stroke="#999999" stroke-width="1" />
<line x1="669.50" y1="169.50" x2="669.50" y2="172.50" stroke="#999999" stroke-width="1" />
<text x="406.5" y="185.3" font-size="11" text-anchor="middle" fill="#303030" font-weight="normal" >60</text>
<text x="450.38" y="185.3" font-size="11" text-anchor="middle" fill="#303030" font-weight="normal" >62</text>
<text x="494.26" y="185.3" font-size="11" text-anchor="middle" fill="#303030" font-weight="normal" >64</text>
<text x="538.14" y="185.3" font-size="11" text-anchor="middle" fill="#303030" font-weight="normal" >66</text>
<text x="582.02" y="185.3" font-size="11" text-anchor="middle" fill="#303030" font-weight="normal" >68</text>
<text x="625.9" y="185.3" font-size="11" text-anchor="middle" fill="#303030" font-weight="normal" >70</text>
<text x="669.78" y="185.3" font-size="11" text-anchor="middle" fill="#303030" font-weight="normal" >72</text>
<rect x="406.5" y="6.5" width="263.0" height="163.0" fill="none" stroke="#999999" stroke-width="1"/>
<polyline points="406.50,124.47 406.66,121.05 406.83,129.88 406.99,121.05 407.16,129.88 407.32,131.44 407.49,125.72 407.65,131.44 407.82,124.47 407.98,127.03 408.15,123.28 408.31,125.72 408.48,122.14 408.64,128.42 408.81,120.00 408.97,129.88 409.13,124.47 409.30,122.14 409.46,136.76 409.63,124.47 409.79,127.03 409.96,138.81 410.12,127.03 410.29,119.00 410.45,122.14 410.62,121.05 410.78,124.47 410.95,125.72 411.11,111.38 411.28,121.05 411.44,117.10 411.60,131.44 411.77,122.14 411.93,122.14 412.10,116.20 412.26,122.14 412.43,124.47 412.59,123.28 412.76,125.72 412.92,146.18 413.09,123.28 413.25,115.33 413.42,120.00 413.58,124.47 413.75,116.20 413.91,122.14 414.07,116.20 414.24,118.03 414.40,127.03 414.57,127.03 414.73,111.38 414.90,123.28 415.06,110.66 415.23,120.00 415.39,116.20 415.56,121.05 415.72,121.05 415.89,131.44 416.05,123.28 416.22,116.20 416.38,122.14 416.54,124.47 416.71,123.28 416.87,112.89 417.04,117.10 417.20,117.10 417.37,118.03 417.53,116.20 417.70,129.88 417.86,113.67 418.03,113.67 418.19,111.38 418.36,109.95 418.52,138.81 418.69,121.05 418.85,122.14 419.01,122.14 419.18,107.96 419.34,111.38 419.51,114.49 419.67,114.49 419.84,109.95 420.00,118.03 420.17,123.28 420.33,110.66 420.50,122.14 420.66,108.61 420.83,113.67 420.99,112.89 421.16,112.12 421.32,116.20 421.48,120.00 421.65,111.38 421.81,112.89 421.98,115.33 422.14,113.67 422.31,121.05 422.47,119.00 422.64,107.96 422.80,114.49 422.97,117.10 423.13,114.49 423.30,121.05 423.46,110.66 423.63,118.03 423.79,118.03 423.95,104.94 424.12,113.67 424.28,109.27 424.45,111.38 424.61,112.12 424.78,118.03 424.94,106.71 425.11,107.96 425.27,119.00 425.44,106.10 425.60,112.12 425.77,115.33 425.93,104.94 426.10,104.94 426.26,106.71 426.42,104.94 426.59,104.94 426.75,109.27 426.92,106.71 427.08,106.71 427.25,108.61 427.41,100.75 427.58,112.12 427.74,103.82 427.91,99.80 428.07,112.12 428.24,104.94 428.40,102.24 428.57,99.34 428.73,101.73 428.89,104.94 429.06,106.71 429.22,101.73 429.39,107.32 429.55,107.32 429.72,109.27 429.88,98.88 430.05,107.32 430.21,105.51 430.38,104.94 430.54,100.75 430.71,102.76 430.87,96.73 431.04,105.51 431.20,103.82 431.36,100.27 431.53,110.66 431.69,98.44 431.86,102.24 432.02,94.36 432.19,94.74 432.35,95.91 432.52,95.91 432.68,99.34 432.85,94.36 433.01,91.51 433.18,98.00 433.34,99.80 433.51,94.74 433.67,97.14 433.83,92.90 434.00,88.34 434.16,94.74 434.33,90.52 434.49,91.85 434.66,92.54 434.82,99.34 434.99,92.54 435.15,90.20 435.32,89.88 435.48,90.84 435.65,86.06 435.81,91.18 435.98,89.88 436.14,89.25 436.30,92.54 436.47,87.46 436.63,88.64 436.80,88.95 436.96,85.79 437.13,86.90 437.29,87.18 437.46,85.52 437.62,87.46 437.79,86.61 437.95,83.72 438.12,83.23 438.28,86.34 438.45,82.51 438.61,85.00 438.77,83.97 438.94,85.79 439.10,86.61 439.27,85.79 439.43,85.52 439.60,85.26 439.76,80.68 439.93,82.51 440.09,80.68 440.26,83.47 440.42,83.97 440.59,80.46 440.75,80.90 440.92,83.72 441.08,85.00 441.24,80.90 441.41,87.75 441.57,79.59 441.74,87.18 441.90,83.47 442.07,82.27 442.23,82.99 442.40,80.90 442.56,82.51 442.73,82.74 442.89,81.35 443.06,79.17 443.22,83.72 443.39,78.56 443.55,76.60 443.71,79.59 443.88,78.56 444.04,82.04 444.21,80.24 444.37,80.46 444.54,83.23 444.70,82.51 444.87,74.26 445.03,82.27 445.20,79.81 445.36,79.81 445.53,81.12 445.69,82.04 445.86,80.02 446.02,76.98 446.18,75.49 446.35,77.95 446.51,77.95 446.68,77.17 446.84,82.51 447.01,78.35 447.17,77.95 447.34,74.43 447.50,80.46 447.67,77.95 447.83,76.79 448.00,80.68 448.16,82.74 448.33,80.90 448.49,75.67 448.65,76.41 448.82,76.98 448.98,81.57 449.15,77.76 449.31,82.04 449.48,75.67 449.64,78.56 449.81,77.76 449.97,80.02 450.14,79.81 450.30,84.48 450.47,78.35 450.63,81.57 450.79,80.68 450.96,82.04 451.12,79.81 451.29,81.80 451.45,79.81 451.62,79.81 451.78,79.81 451.95,82.04 452.11,82.27 452.28,83.47 452.44,84.48 452.61,85.26 452.77,82.99 452.94,84.74 453.10,82.99 453.26,83.47 453.43,88.64 453.59,84.48 453.76,88.95 453.92,81.57 454.09,84.48 454.25,85.79 454.42,85.26 454.58,89.56 454.75,79.38 454.91,83.97 455.08,85.00 455.24,85.00 455.41,85.79 455.57,85.79 455.73,89.88 455.90,84.22 456.06,86.90 456.23,88.34 456.39,88.95 456.56,86.61 456.72,92.90 456.89,84.22 457.05,91.18 457.22,97.14 457.38,92.54 457.55,85.26 457.71,93.62 457.88,90.20 458.04,91.18 458.20,92.19 458.37,89.25 458.53,88.95 458.70,89.25 458.86,88.64 459.03,92.90 459.19,92.90 459.36,97.14 459.52,101.23 459.69,98.00 459.85,95.52 460.02,96.73 460.18,96.73 460.35,98.00 460.51,93.62 460.67,98.44 460.84,99.80 461.00,98.00 461.17,92.19 461.33,96.32 461.50,96.73 461.66,94.36 461.83,106.10 461.99,93.99 462.16,95.52 462.32,109.27 462.49,102.24 462.65,99.80 462.82,98.88 462.98,103.29 463.14,96.32 463.31,97.14 463.47,105.51 463.64,104.94 463.80,106.10 463.97,110.66 464.13,102.76 464.30,104.38 464.46,110.66 464.63,109.95 464.79,104.38 464.96,109.95 465.12,112.89 465.29,106.10 465.45,112.12 465.61,108.61 465.78,112.12 465.94,109.27 466.11,107.96 466.27,100.75 466.44,115.33 466.60,103.82 466.77,112.12 466.93,109.95 467.10,115.33 467.26,123.28 467.43,116.20 467.59,115.33 467.76,111.38 467.92,108.61 468.08,124.47 468.25,113.67 468.41,118.03 468.58,125.72 468.74,114.49 468.91,115.33 469.07,121.05 469.24,108.61 469.40,116.20 469.57,129.88 469.73,115.33 469.90,114.49 470.06,124.47 470.23,123.28 470.39,121.05 470.55,120.00 470.72,121.05 470.88,117.10 471.05,123.28 471.21,112.12 471.38,129.88 471.54,134.86 471.71,121.05 471.87,129.88 472.04,123.28 472.20,120.00 472.37,121.05 472.53,117.10 472.70,120.00 472.86,122.14 473.02,124.47 473.19,138.81 473.35,125.72 473.52,127.03 473.68,112.89 473.85,124.47 474.01,128.42 474.18,128.42 474.34,128.42 474.51,116.20 474.67,120.00 474.84,127.03 475.00,138.81 475.17,123.28 475.33,121.05 475.49,112.89 475.66,124.47 475.82,133.09 475.99,131.44 476.15,118.03 476.32,136.76 476.48,125.72 476.65,128.42 476.81,124.47 476.98,129.88 477.14,120.00 477.31,124.47 477.47,120.00 477.64,128.42 477.80,125.72 477.96,116.20 478.13,136.76 478.29,141.04 478.46,127.03 478.62,138.81 478.79,123.28 478.95,138.81 479.12,127.03 479.28,122.14 479.45,128.42 479.61,128.42 479.78,124.47 479.94,129.88 480.11,124.47 480.27,127.03 480.43,128.42 480.60,129.88 480.76,133.09 480.93,131.44 481.09,119.00 481.26,143.48 481.42,136.76 481.59,133.09 481.75,133.09 481.92,118.03 482.08,123.28 482.25,134.86 482.41,134.86 482.58,143.48 482.74,125.72 482.90,138.81 483.07,134.86 483.23,125.72 483.40,123.28 483.56,123.28 483.73,123.28 483.89,127.03 484.06,136.76 484.22,129.88 484.39,121.05 484.55,138.81 484.72,124.47 484.88,131.44 485.05,128.42 485.21,146.18 485.37,123.28 485.54,133.09 485.70,134.86 485.87,129.88 486.03,127.03 486.20,125.72 486.36,118.03 486.53,141.04 486.69,136.76 486.86,129.88 487.02,124.47 487.19,141.04 487.35,131.44 487.52,131.44 487.68,133.09 487.84,141.04 488.01,146.18 488.17,122.14 488.34,136.76 488.50,134.86 488.67,146.18 488.83,146.18 489.00,136.76 489.16,127.03 489.33,134.86 489.49,127.03 489.66,129.88 489.82,121.05 489.99,134.86 490.15,138.81 490.31,123.28 490.48,128.42 490.64,156.57 490.81,131.44 490.97,131.44 491.14,128.42 491.30,152.62 491.47,123.28 491.63,131.44 491.80,121.05 491.96,133.09 492.13,127.03 492.29,146.18 492.46,117.10 492.62,127.03 492.78,133.09 492.95,128.42 493.11,128.42 493.28,133.09 493.44,131.44 493.61,138.81 493.77,133.09 493.94,134.86 494.10,123.28 494.27,131.44 494.43,129.88 494.60,136.76 494.76,136.76 494.93,128.42 495.09,136.76 495.25,146.18 495.42,131.44 495.58,133.09 495.75,128.42 495.91,127.03 496.08,146.18 496.24,124.47 496.41,127.03 496.57,128.42 496.74,136.76 496.90,131.44 497.07,129.88 497.23,134.86 497.40,134.86 497.56,133.09 497.72,138.81 497.89,124.47 498.05,146.18 498.22,143.48 498.38,133.09 498.55,136.76 498.71,134.86 498.88,143.48 499.04,133.09 499.21,143.48 499.37,129.88 499.54,134.86 499.70,123.28 499.87,134.86 500.03,128.42 500.19,127.03 500.36,129.88 500.52,133.09 500.69,134.86 500.85,141.04 501.02,133.09 501.18,122.14 501.35,129.88 501.51,127.03 501.68,128.42 501.84,125.72 502.01,129.88 502.17,136.76 502.34,143.48 502.50,134.86 502.66,125.72 502.83,138.81 502.99,146.18 503.16,121.05 503.32,133.09 503.49,134.86 503.65,133.09 503.82,136.76 503.98,125.72 504.15,134.86 504.31,146.18 504.48,136.76 504.64,123.28 504.81,143.48 504.97,143.48 505.13,122.14 505.30,141.04 505.46,129.88 505.63,138.81 505.79,133.09 505.96,134.86 506.12,149.20 506.29,138.81 506.45,141.04 506.62,136.76 506.78,134.86 506.95,134.86 507.11,149.20 507.28,133.09 507.44,129.88 507.60,146.18 507.77,136.76 507.93,129.88 508.10,138.81 508.26,123.28 508.43,136.76 508.59,131.44 508.76,136.76 508.92,125.72 509.09,136.76 509.25,129.88 509.42,134.86 509.58,129.88 509.75,134.86 509.91,133.09 510.07,138.81 510.24,141.04 510.40,134.86 510.57,136.76 510.73,127.03 510.90,134.86 511.06,133.09 511.23,136.76 511.39,125.72 511.56,133.09 511.72,134.86 511.89,133.09 512.05,143.48 512.22,136.76 512.38,129.88 512.54,136.76 512.71,127.03 512.87,149.20 513.04,136.76 513.20,125.72 513.37,131.44 513.53,128.42 513.70,143.48 513.86,136.76 514.03,152.62 514.19,134.86 514.36,136.76 514.52,136.76 514.69,133.09 514.85,128.42 515.01,134.86 515.18,129.88 515.34,129.88 515.51,138.81 515.67,136.76 515.84,131.44 516.00,128.42 516.17,131.44 516.33,138.81 516.50,143.48 516.66,136.76 516.83,133.09 516.99,141.04 517.16,129.88 517.32,133.09 517.48,134.86 517.65,133.09 517.81,138.81 517.98,128.42 518.14,141.04 518.31,133.09 518.47,123.28 518.64,134.86 518.80,143.48 518.97,129.88 519.13,141.04 519.30,129.88 519.46,134.86 519.63,141.04 519.79,136.76 519.95,143.48 520.12,141.04 520.28,141.04 520.45,127.03 520.61,149.20 520.78,134.86 520.94,128.42 521.11,134.86 521.27,134.86 521.44,143.48 521.60,138.81 521.77,128.42 521.93,141.04 522.10,138.81 522.26,136.76 522.42,127.03 522.59,134.86 522.75,152.62 522.92,131.44 523.08,138.81 523.25,136.76 523.41,146.18 523.58,125.72 523.74,141.04 523.91,134.86 524.07,121.05 524.24,138.81 524.40,149.20 524.57,131.44 524.73,138.81 524.89,124.47 525.06,123.28 525.22,131.44 525.39,133.09 525.55,124.47 525.72,143.48 525.88,141.04 526.05,119.00 526.21,138.81 526.38,128.42 526.54,133.09 526.71,131.44 526.87,136.76 527.04,138.81 527.20,136.76 527.36,134.86 527.53,138.81 527.69,123.28 527.86,128.42 528.02,141.04 528.19,141.04 528.35,136.76 528.52,129.88 528.68,123.28 528.85,138.81 529.01,138.81 529.18,128.42 529.34,134.86 529.51,136.76 529.67,131.44 529.83,134.86 530.00,134.86 530.16,134.86 530.33,128.42 530.49,134.86 530.66,128.42 530.82,125.72 530.99,138.81 531.15,138.81 531.32,141.04 531.48,136.76 531.65,141.04 531.81,129.88 531.98,133.09 532.14,141.04 532.30,131.44 532.47,121.05 532.63,141.04 532.80,128.42 532.96,125.72 533.13,134.86 533.29,125.72 533.46,133.09 533.62,133.09 533.79,152.62 533.95,136.76 534.12,141.04 534.28,128.42 534.45,141.04 534.61,128.42 534.77,128.42 534.94,138.81 535.10,127.03 535.27,129.88 535.43,136.76 535.60,127.03 535.76,125.72 535.93,143.48 536.09,138.81 536.26,134.86 536.42,146.18 536.59,127.03 536.75,138.81 536.92,143.48 537.08,141.04 537.24,138.81 537.41,136.76 537.57,127.03 537.74,127.03 537.90,129.88 538.07,133.09 538.23,129.88 538.40,128.42 538.56,141.04 538.73,133.09 538.89,129.88 539.06,146.18 539.22,143.48 539.38,124.47 539.55,134.86 539.71,131.44 539.88,138.81 540.04,143.48 540.21,133.09 540.37,133.09 540.54,128.42 540.70,131.44 540.87,133.09 541.03,152.62 541.20,136.76 541.36,129.88 541.53,141.04 541.69,143.48 541.85,138.81 542.02,138.81 542.18,143.48 542.35,128.42 542.51,129.88 542.68,131.44 542.84,141.04 543.01,143.48 543.17,149.20 543.34,152.62 543.50,129.88 543.67,133.09 543.83,133.09 544.00,131.44 544.16,141.04 544.32,149.20 544.49,133.09 544.65,138.81 544.82,143.48 544.98,133.09 545.15,149.20 545.31,129.88 545.48,131.44 545.64,149.20 545.81,131.44 545.97,133.09 546.14,156.57 546.30,128.42 546.47,134.86 546.63,131.44 546.79,136.76 546.96,133.09 547.12,131.44 547.29,136.76 547.45,136.76 547.62,134.86 547.78,138.81 547.95,133.09 548.11,138.81 548.28,131.44 548.44,134.86 548.61,131.44 548.77,136.76 548.94,131.44 549.10,138.81 549.26,127.03 549.43,128.42 549.59,131.44 549.76,146.18 549.92,134.86 550.09,131.44 550.25,138.81 550.42,138.81 550.58,125.72 550.75,128.42 550.91,134.86 551.08,138.81 551.24,127.03 551.41,129.88 551.57,143.48 551.73,134.86 551.90,143.48 552.06,141.04 552.23,133.09 552.39,136.76 552.56,136.76 552.72,128.42 552.89,143.48 553.05,131.44 553.22,138.81 553.38,141.04 553.55,141.04 553.71,129.88 553.88,134.86 554.04,133.09 554.20,131.44 554.37,134.86 554.53,149.20 554.70,149.20 554.86,129.88 555.03,138.81 555.19,128.42 555.36,138.81 555.52,131.44 555.69,133.09 555.85,131.44 556.02,152.62 556.18,129.88 556.35,141.04 556.51,134.86 556.67,131.44 556.84,129.88 557.00,136.76 557.17,129.88 557.33,133.09 557.50,128.42 557.66,124.47 557.83,131.44 557.99,136.76 558.16,161.24 558.32,149.20 558.49,143.48 558.65,141.04 558.82,125.72 558.98,133.09 559.14,129.88 559.31,152.62 559.47,146.18 559.64,125.72 559.80,138.81 559.97,131.44 560.13,124.47 560.30,129.88 560.46,141.04 560.63,146.18 560.79,156.57 560.96,131.44 561.12,128.42 561.29,161.24 561.45,138.81 561.61,131.44 561.78,131.44 561.94,146.18 562.11,152.62 562.27,138.81 562.44,141.04 562.60,133.09 562.77,143.48 562.93,136.76 563.10,141.04 563.26,138.81 563.43,136.76 563.59,146.18 563.76,136.76 563.92,138.81 564.08,128.42 564.25,141.04 564.41,138.81 564.58,138.81 564.74,134.86 564.91,141.04 565.07,143.48 565.24,149.20 565.40,146.18 565.57,133.09 565.73,138.81 565.90,134.86 566.06,129.88 566.23,129.88 566.39,133.09 566.55,136.76 566.72,143.48 566.88,134.86 567.05,128.42 567.21,129.88 567.38,134.86 567.54,146.18 567.71,133.09 567.87,127.03 568.04,141.04 568.20,129.88 568.37,136.76 568.53,134.86 568.70,129.88 568.86,131.44 569.02,125.72 569.19,134.86 569.35,138.81 569.52,143.48 569.68,136.76 569.85,138.81 570.01,133.09 570.18,133.09 570.34,133.09 570.51,138.81 570.67,124.47 570.84,128.42 571.00,129.88 571.17,127.03 571.33,136.76 571.49,143.48 571.66,143.48 571.82,129.88 571.99,131.44 572.15,149.20 572.32,124.47 572.48,127.03 572.65,133.09 572.81,131.44 572.98,133.09 573.14,134.86 573.31,129.88 573.47,152.62 573.64,136.76 573.80,136.76 573.96,123.28 574.13,133.09 574.29,129.88 574.46,138.81 574.62,128.42 574.79,133.09 574.95,131.44 575.12,146.18 575.28,141.04 575.45,136.76 575.61,138.81 575.78,136.76 575.94,141.04 576.11,138.81 576.27,138.81 576.43,152.62 576.60,133.09 576.76,136.76 576.93,133.09 577.09,156.57 577.26,124.47 577.42,124.47 577.59,138.81 577.75,125.72 577.92,143.48 578.08,136.76 578.25,128.42 578.41,161.24 578.58,134.86 578.74,136.76 578.90,133.09 579.07,136.76 579.23,141.04 579.40,136.76 579.56,136.76 579.73,136.76 579.89,141.04 580.06,136.76 580.22,141.04 580.39,141.04 580.55,134.86 580.72,134.86 580.88,138.81 581.05,136.76 581.21,129.88 581.37,146.18 581.54,134.86 581.70,141.04 581.87,149.20 582.03,152.62 582.20,149.20 582.36,141.04 582.53,152.62 582.69,133.09 582.86,131.44 583.02,133.09 583.19,131.44 583.35,143.48 583.52,143.48 583.68,141.04 583.84,136.76 584.01,129.88 584.17,136.76 584.34,134.86 584.50,128.42 584.67,136.76 584.83,138.81 585.00,125.72 585.16,128.42 585.33,138.81 585.49,143.48 585.66,119.00 585.82,156.57 585.99,125.72 586.15,131.44 586.31,143.48 586.48,131.44 586.64,128.42 586.81,143.48 586.97,133.09 587.14,138.81 587.30,136.76 587.47,134.86 587.63,133.09 587.80,134.86 587.96,134.86 588.13,143.48 588.29,127.03 588.46,133.09 588.62,129.88 588.78,134.86 588.95,152.62 589.11,133.09 589.28,149.20 589.44,133.09 589.61,136.76 589.77,129.88 589.94,146.18 590.10,122.14 590.27,134.86 590.43,136.76 590.60,141.04 590.76,149.20 590.93,136.76 591.09,138.81 591.25,136.76 591.42,128.42 591.58,136.76 591.75,146.18 591.91,149.20 592.08,146.18 592.24,136.76 592.41,129.88 592.57,133.09 592.74,133.09 592.90,149.20 593.07,128.42 593.23,133.09 593.40,143.48 593.56,152.62 593.72,141.04 593.89,138.81 594.05,128.42 594.22,156.57 594.38,133.09 594.55,141.04 594.71,134.86 594.88,133.09 595.04,161.24 595.21,138.81 595.37,156.57 595.54,143.48 595.70,128.42 595.87,127.03 596.03,138.81 596.19,149.20 596.36,134.86 596.52,127.03 596.69,156.57 596.85,131.44 597.02,136.76 597.18,131.44 597.35,129.88 597.51,143.48 597.68,156.57 597.84,134.86 598.01,141.04 598.17,125.72 598.34,131.44 598.50,131.44 598.66,136.76 598.83,152.62 598.99,128.42 599.16,141.04 599.32,129.88 599.49,134.86 599.65,131.44 599.82,134.86 599.98,128.42 600.15,127.03 600.31,128.42 600.48,138.81 600.64,134.86 600.81,131.44 600.97,127.03 601.13,124.47 601.30,141.04 601.46,138.81 601.63,127.03 601.79,133.09 601.96,133.09 602.12,128.42 602.29,125.72 602.45,133.09 602.62,128.42 602.78,120.00 602.95,120.00 603.11,127.03 603.28,143.48 603.44,133.09 603.60,129.88 603.77,125.72 603.93,134.86 604.10,120.00 604.26,116.20 604.43,128.42 604.59,127.03 604.76,127.03 604.92,129.88 605.09,127.03 605.25,125.72 605.42,120.00 605.58,125.72 605.75,127.03 605.91,120.00 606.07,125.72 606.24,123.28 606.40,122.14 606.57,124.47 606.73,127.03 606.90,112.89 607.06,123.28 607.23,121.05 607.39,129.88 607.56,116.20 607.72,121.05 607.89,123.28 608.05,114.49 608.22,120.00 608.38,112.12 608.54,121.05 608.71,123.28 608.87,114.49 609.04,118.03 609.20,115.33 609.37,120.00 609.53,124.47 609.70,118.03 609.86,112.89 610.03,112.12 610.19,114.49 610.36,118.03 610.52,108.61 610.69,121.05 610.85,112.89 611.01,114.49 611.18,108.61 611.34,105.51 611.51,115.33 611.67,110.66 611.84,109.27 612.00,108.61 612.17,107.32 612.33,116.20 612.50,109.27 612.66,106.10 612.83,107.32 612.99,109.27 613.16,100.75 613.32,106.10 613.48,106.10 613.65,98.00 613.81,105.51 613.98,104.38 614.14,96.73 614.31,96.73 614.47,103.29 614.64,95.13 614.80,100.27 614.97,100.27 615.13,94.36 615.30,100.75 615.46,96.32 615.63,91.85 615.79,86.90 615.95,88.64 616.12,87.46 616.28,81.80 616.45,79.38 616.61,79.38 616.78,80.68 616.94,73.75 617.11,72.28 617.27,71.80 617.44,70.43 617.60,69.56 617.77,71.03 617.93,65.35 618.10,65.22 618.26,63.36 618.42,61.21 618.59,60.69 618.75,60.59 618.92,60.19 619.08,54.12 619.25,56.16 619.41,55.08 619.58,56.41 619.74,53.73 619.91,51.66 620.07,48.96 620.24,49.15 620.40,52.09 620.57,48.08 620.73,47.77 620.89,47.83 621.06,46.40 621.22,43.04 621.39,42.48 621.55,42.48 621.72,40.34 621.88,39.04 622.05,40.57 622.21,39.17 622.38,36.67 622.54,37.93 622.71,36.20 622.87,36.13 623.04,34.36 623.20,34.99 623.36,34.00 623.53,32.38 623.69,30.91 623.86,32.18 624.02,30.22 624.19,30.72 624.35,30.13 624.52,32.21 624.68,31.52 624.85,34.47 625.01,34.69 625.18,35.36 625.34,36.71 625.51,37.40 625.67,36.67 625.83,37.93 626.00,38.83 626.16,41.79 626.33,38.95 626.49,41.60 626.66,44.72 626.82,43.60 626.99,48.01 627.15,47.16 627.32,46.93 627.48,51.73 627.65,52.90 627.81,53.89 627.97,53.81 628.14,54.04 628.30,56.50 628.47,61.21 628.63,57.73 628.80,61.41 628.96,61.41 629.13,64.28 629.29,65.35 629.46,64.04 629.62,67.37 629.79,75.14 629.95,68.99 630.12,67.24 630.28,70.73 630.44,75.31 630.61,72.76 630.77,71.49 630.94,72.60 631.10,75.49 631.27,74.96 631.43,78.76 631.60,74.78 631.76,82.04 631.93,76.98 632.09,76.60 632.26,76.79 632.42,79.59 632.59,78.15 632.75,78.76 632.91,80.46 633.08,81.57 633.24,77.76 633.41,80.24 633.57,77.56 633.74,81.57 633.90,83.72 634.07,84.22 634.23,79.59 634.40,82.27 634.56,86.90 634.73,84.22 634.89,82.51 635.06,84.22 635.22,86.06 635.38,84.74 635.55,87.46 635.71,88.34 635.88,85.26 636.04,88.05 636.21,89.88 636.37,84.74 636.54,86.61 636.70,90.84 636.87,88.05 637.03,86.90 637.20,86.06 637.36,81.80 637.53,85.00 637.69,84.74 637.85,80.90 638.02,76.23 638.18,80.68 638.35,83.23 638.51,75.49 638.68,75.49 638.84,79.17 639.01,74.43 639.17,77.76 639.34,77.76 639.50,73.25 639.67,75.31 639.83,71.80 640.00,71.03 640.16,66.98 640.32,68.30 640.49,67.37 640.65,67.90 640.82,63.81 640.98,60.39 641.15,61.21 641.31,57.91 641.48,59.41 641.64,55.65 641.81,56.93 641.97,53.96 642.14,51.23 642.30,52.09 642.47,49.94 642.63,48.51 642.79,47.16 642.96,48.51 643.12,48.45 643.29,51.87 643.45,51.73 643.62,54.92 643.78,52.53 643.95,55.90 644.11,56.16 644.28,57.91 644.44,59.31 644.61,58.74 644.77,59.22 644.94,65.10 645.10,64.98 645.26,67.63 645.43,68.30 645.59,73.25 645.76,76.23 645.92,76.60 646.09,78.76 646.25,78.56 646.42,84.48 646.58,85.52 646.75,82.99 646.91,96.73 647.08,91.51 647.24,96.32 647.41,106.71 647.57,104.94 647.73,109.27 647.90,109.95 648.06,104.38 648.23,104.38 648.39,106.10 648.56,99.34 648.72,110.66 648.89,107.96 649.05,110.66 649.22,111.38 649.38,112.89 649.55,115.33 649.71,113.67 649.88,111.38 650.04,112.89 650.20,107.96 650.37,112.12 650.53,119.00 650.70,111.38 650.86,118.03 651.03,128.42 651.19,127.03 651.36,122.14 651.52,121.05 651.69,120.00 651.85,129.88 652.02,111.38 652.18,112.12 652.35,120.00 652.51,133.09 652.67,123.28 652.84,127.03 653.00,127.03 653.17,127.03 653.33,124.47 653.50,125.72 653.66,125.72 653.83,121.05 653.99,127.03 654.16,125.72 654.32,125.72 654.49,122.14 654.65,122.14 654.82,125.72 654.98,131.44 655.14,124.47 655.31,131.44 655.47,127.03 655.64,127.03 655.80,116.20 655.97,133.09 656.13,128.42 656.30,127.03 656.46,122.14 656.63,133.09 656.79,143.48 656.96,134.86 657.12,129.88 657.29,134.86 657.45,129.88 657.61,129.88 657.78,124.47 657.94,131.44 658.11,133.09 658.27,133.09 658.44,129.88 658.60,123.28 658.77,143.48 658.93,134.86 659.10,131.44 659.26,138.81 659.43,133.09 659.59,131.44 659.76,134.86 659.92,131.44 660.08,125.72 660.25,138.81 660.41,129.88 660.58,136.76 660.74,128.42 660.91,141.04 661.07,138.81 661.24,141.04 661.40,143.48 661.57,134.86 661.73,136.76 661.90,141.04 662.06,141.04 662.23,131.44 662.39,125.72 662.55,131.44 662.72,125.72 662.88,149.20 663.05,141.04 663.21,146.18 663.38,128.42 663.54,131.44 663.71,138.81 663.87,149.20 664.04,146.18 664.20,131.44 664.37,131.44 664.53,129.88 664.70,136.76 664.86,133.09 665.02,152.62 665.19,152.62 665.35,143.48 665.52,129.88 665.68,125.72 665.85,131.44 666.01,136.76 666.18,138.81 666.34,143.48 666.51,131.44 666.67,138.81 666.84,129.88 667.00,124.47 667.17,136.76 667.33,141.04 667.49,122.14 667.66,136.76 667.82,149.20 667.99,128.42 668.15,141.04 668.32,127.03 668.48,133.09 668.65,128.42 668.81,146.18 668.98,133.09 669.14,136.76 669.31,138.81 669.47,143.48 669.64,141.04 669.80,143.48" fill="none" stroke="#e8202a" stroke-width="0.55" stroke-linejoin="round" stroke-linecap="round" stroke-linejoin="miter"/>
<text x="0" y="0" font-size="10.6" text-anchor="middle" fill="#303030" font-weight="normal" textLength="81" lengthAdjust="spacingAndGlyphs" transform="translate(377.4,88.5) rotate(-90)">Intensity (counts)</text>
<text x="538" y="201.8" font-size="11" text-anchor="middle" fill="#303030" font-weight="normal" textLength="27.5" lengthAdjust="spacingAndGlyphs" ><tspan font-style="italic">2θ</tspan> (°)</text>
<text x="0" y="0" font-size="10.6" text-anchor="middle" fill="#303030" font-weight="normal" textLength="50" lengthAdjust="spacingAndGlyphs" transform="translate(450.6,44.2) rotate(-90)">FeRh(002)</text>
<text x="0" y="0" font-size="10.6" text-anchor="middle" fill="#303030" font-weight="normal" textLength="49.5" lengthAdjust="spacingAndGlyphs" transform="translate(610.8,55) rotate(-90)">BTO(003)</text>
<text x="0" y="0" font-size="10.6" text-anchor="middle" fill="#303030" font-weight="normal" textLength="84" lengthAdjust="spacingAndGlyphs" transform="translate(664.2,69.7) rotate(-90)">BTO(300)/(030)</text>
<text x="0.9" y="237.3" font-size="12" text-anchor="start" fill="#111" font-weight="bold" >c</text>
<line x1="61.90" y1="235.50" x2="64.50" y2="235.50" stroke="#999999" stroke-width="1" />
<text x="58.3" y="239.52500000000077" font-size="11" text-anchor="end" fill="#303030" font-weight="normal" >3.03</text>
<line x1="63.00" y1="255.50" x2="64.50" y2="255.50" stroke="#999999" stroke-width="1" />
<line x1="61.90" y1="275.50" x2="64.50" y2="275.50" stroke="#999999" stroke-width="1" />
<text x="58.3" y="280.24999999999994" font-size="11" text-anchor="end" fill="#303030" font-weight="normal" >3.02</text>
<line x1="63.00" y1="296.50" x2="64.50" y2="296.50" stroke="#999999" stroke-width="1" />
<line x1="61.90" y1="316.50" x2="64.50" y2="316.50" stroke="#999999" stroke-width="1" />
<text x="58.3" y="320.9750000000009" font-size="11" text-anchor="end" fill="#303030" font-weight="normal" >3.01</text>
<line x1="63.00" y1="337.50" x2="64.50" y2="337.50" stroke="#999999" stroke-width="1" />
<line x1="61.90" y1="357.50" x2="64.50" y2="357.50" stroke="#999999" stroke-width="1" />
<text x="58.3" y="361.7" font-size="11" text-anchor="end" fill="#303030" font-weight="normal" >3.00</text>
<line x1="63.00" y1="377.50" x2="64.50" y2="377.50" stroke="#999999" stroke-width="1" />
<line x1="61.90" y1="398.50" x2="64.50" y2="398.50" stroke="#999999" stroke-width="1" />
<text x="58.3" y="402.4249999999991" font-size="11" text-anchor="end" fill="#303030" font-weight="normal" >2.99</text>
<line x1="65.50" y1="398.50" x2="65.50" y2="400.10" stroke="#999999" stroke-width="1" />
<line x1="74.50" y1="398.50" x2="74.50" y2="400.10" stroke="#999999" stroke-width="1" />
<line x1="82.50" y1="398.50" x2="82.50" y2="400.10" stroke="#999999" stroke-width="1" />
<line x1="90.50" y1="398.50" x2="90.50" y2="401.80" stroke="#999999" stroke-width="1" />
<line x1="98.50" y1="398.50" x2="98.50" y2="400.10" stroke="#999999" stroke-width="1" />
<line x1="106.50" y1="398.50" x2="106.50" y2="400.10" stroke="#999999" stroke-width="1" />
<line x1="114.50" y1="398.50" x2="114.50" y2="400.10" stroke="#999999" stroke-width="1" />
<line x1="123.50" y1="398.50" x2="123.50" y2="400.10" stroke="#999999" stroke-width="1" />
<line x1="131.50" y1="398.50" x2="131.50" y2="401.80" stroke="#999999" stroke-width="1" />
<line x1="139.50" y1="398.50" x2="139.50" y2="400.10" stroke="#999999" stroke-width="1" />
<line x1="147.50" y1="398.50" x2="147.50" y2="400.10" stroke="#999999" stroke-width="1" />
<line x1="155.50" y1="398.50" x2="155.50" y2="400.10" stroke="#999999" stroke-width="1" />
<line x1="163.50" y1="398.50" x2="163.50" y2="400.10" stroke="#999999" stroke-width="1" />
<line x1="172.50" y1="398.50" x2="172.50" y2="401.80" stroke="#999999" stroke-width="1" />
<line x1="180.50" y1="398.50" x2="180.50" y2="400.10" stroke="#999999" stroke-width="1" />
<line x1="188.50" y1="398.50" x2="188.50" y2="400.10" stroke="#999999" stroke-width="1" />
<line x1="196.50" y1="398.50" x2="196.50" y2="400.10" stroke="#999999" stroke-width="1" />
<line x1="204.50" y1="398.50" x2="204.50" y2="400.10" stroke="#999999" stroke-width="1" />
<line x1="212.50" y1="398.50" x2="212.50" y2="401.80" stroke="#999999" stroke-width="1" />
<text x="90.30000000000001" y="413.6" font-size="11" text-anchor="middle" fill="#303030" font-weight="normal" >320</text>
<text x="131.3" y="413.6" font-size="11" text-anchor="middle" fill="#303030" font-weight="normal" >360</text>
<text x="172.3" y="413.6" font-size="11" text-anchor="middle" fill="#303030" font-weight="normal" >400</text>
<text x="213.3" y="413.6" font-size="11" text-anchor="middle" fill="#303030" font-weight="normal" >440</text>
<text x="142.5" y="430" font-size="10.8" text-anchor="middle" fill="#303030" font-weight="normal" textLength="79" lengthAdjust="spacingAndGlyphs" >Temperature (K)</text>
<text x="0" y="0" font-size="10.4" text-anchor="middle" fill="#303030" font-weight="normal" textLength="38" lengthAdjust="spacingAndGlyphs" transform="translate(26.9,314.6) rotate(-90)"><tspan font-style="italic">c</tspan><tspan font-size="7.6" dy="2.4">FeRh</tspan><tspan dy="-2.4"> (Å)</tspan></text>
<rect x="64.5" y="235.5" width="154.0" height="163.0" fill="none" stroke="#999999" stroke-width="1"/>
<polyline points="69.80,359.00 80.05,371.80 90.30,362.90 100.55,357.80 110.80,350.20 121.05,355.70 131.30,351.00 141.55,354.80 151.80,347.10 162.05,338.70 172.30,317.90 182.55,285.70 192.80,276.00 203.05,263.90 213.30,263.90" fill="none" stroke="#e1252f" stroke-width="0.6" stroke-linejoin="round" stroke-linecap="round" stroke-dasharray="3,1.6" opacity="0.8"/>
<polyline points="69.80,379.90 80.05,360.20 90.30,366.70 100.55,361.10 110.80,370.00 121.05,352.20 131.30,349.10 141.55,327.90 151.80,312.00 162.05,293.00 172.30,284.00 182.55,266.00 192.80,258.90 203.05,263.90" fill="none" stroke="#2d3f92" stroke-width="0.6" stroke-linejoin="round" stroke-linecap="round" stroke-dasharray="3,1.6" opacity="0.8"/>
<polygon points="65.20,362.60 74.40,362.60 69.80,355.30" fill="#e1252f"/>
<polygon points="75.45,375.40 84.65,375.40 80.05,368.10" fill="#e1252f"/>
<polygon points="85.70,366.50 94.90,366.50 90.30,359.20" fill="#e1252f"/>
<polygon points="95.95,361.40 105.15,361.40 100.55,354.10" fill="#e1252f"/>
<polygon points="106.20,353.80 115.40,353.80 110.80,346.50" fill="#e1252f"/>
<polygon points="116.45,359.30 125.65,359.30 121.05,352.00" fill="#e1252f"/>
<polygon points="126.70,354.60 135.90,354.60 131.30,347.30" fill="#e1252f"/>
<polygon points="136.95,358.40 146.15,358.40 141.55,351.10" fill="#e1252f"/>
<polygon points="147.20,350.70 156.40,350.70 151.80,343.40" fill="#e1252f"/>
<polygon points="157.45,342.30 166.65,342.30 162.05,335.00" fill="#e1252f"/>
<polygon points="167.70,321.50 176.90,321.50 172.30,314.20" fill="#e1252f"/>
<polygon points="177.95,289.30 187.15,289.30 182.55,282.00" fill="#e1252f"/>
<polygon points="188.20,279.60 197.40,279.60 192.80,272.30" fill="#e1252f"/>
<polygon points="198.45,267.50 207.65,267.50 203.05,260.20" fill="#e1252f"/>
<polygon points="208.70,267.50 217.90,267.50 213.30,260.20" fill="#e1252f"/>
<polygon points="65.20,383.50 74.40,383.50 69.80,376.20" fill="#2d3f92"/>
<polygon points="75.45,363.80 84.65,363.80 80.05,356.50" fill="#2d3f92"/>
<polygon points="85.70,370.30 94.90,370.30 90.30,363.00" fill="#2d3f92"/>
<polygon points="95.95,364.70 105.15,364.70 100.55,357.40" fill="#2d3f92"/>
<polygon points="106.20,373.60 115.40,373.60 110.80,366.30" fill="#2d3f92"/>
<polygon points="116.45,355.80 125.65,355.80 121.05,348.50" fill="#2d3f92"/>
<polygon points="126.70,352.70 135.90,352.70 131.30,345.40" fill="#2d3f92"/>
<polygon points="136.95,331.50 146.15,331.50 141.55,324.20" fill="#2d3f92"/>
<polygon points="147.20,315.60 156.40,315.60 151.80,308.30" fill="#2d3f92"/>
<polygon points="157.45,296.60 166.65,296.60 162.05,289.30" fill="#2d3f92"/>
<polygon points="167.70,287.60 176.90,287.60 172.30,280.30" fill="#2d3f92"/>
<polygon points="177.95,269.60 187.15,269.60 182.55,262.30" fill="#2d3f92"/>
<polygon points="188.20,262.50 197.40,262.50 192.80,255.20" fill="#2d3f92"/>
<polygon points="198.45,267.50 207.65,267.50 203.05,260.20" fill="#2d3f92"/>
<line x1="146.60" y1="292.20" x2="130.01" y2="324.62" stroke="#2d3f92" stroke-width="0.9" />
<polygon points="129.10,326.40 129.24,320.86 130.69,323.28 133.51,323.04" fill="#2d3f92"/>
<line x1="174.30" y1="342.30" x2="190.88" y2="310.28" stroke="#e1252f" stroke-width="0.9" />
<polygon points="191.80,308.50 191.63,314.04 190.19,311.61 187.37,311.84" fill="#e1252f"/>
<text x="96.7" y="303.3" font-size="10.7" text-anchor="start" fill="#42549e" font-weight="normal" textLength="35" lengthAdjust="spacingAndGlyphs" >Cooling</text>
<text x="169.4" y="355.4" font-size="10.7" text-anchor="start" fill="#d03a47" font-weight="normal" textLength="43.7" lengthAdjust="spacingAndGlyphs" >Warming</text>
<text x="243.1" y="237" font-size="12" text-anchor="start" fill="#111" font-weight="bold" >d</text>
<line x1="293.90" y1="398.50" x2="296.50" y2="398.50" stroke="#999999" stroke-width="1" />
<text x="290" y="402.79999999999995" font-size="11" text-anchor="end" fill="#303030" font-weight="normal" >0</text>
<line x1="295.00" y1="382.50" x2="296.50" y2="382.50" stroke="#999999" stroke-width="1" />
<line x1="293.90" y1="365.50" x2="296.50" y2="365.50" stroke="#999999" stroke-width="1" />
<text x="290" y="370.17999999999995" font-size="11" text-anchor="end" fill="#303030" font-weight="normal" >10</text>
<line x1="295.00" y1="349.50" x2="296.50" y2="349.50" stroke="#999999" stroke-width="1" />
<line x1="293.90" y1="333.50" x2="296.50" y2="333.50" stroke="#999999" stroke-width="1" />
<text x="290" y="337.55999999999995" font-size="11" text-anchor="end" fill="#303030" font-weight="normal" >20</text>
<line x1="295.00" y1="316.50" x2="296.50" y2="316.50" stroke="#999999" stroke-width="1" />
<line x1="293.90" y1="300.50" x2="296.50" y2="300.50" stroke="#999999" stroke-width="1" />
<text x="290" y="304.93999999999994" font-size="11" text-anchor="end" fill="#303030" font-weight="normal" >30</text>
<line x1="295.00" y1="284.50" x2="296.50" y2="284.50" stroke="#999999" stroke-width="1" />
<line x1="293.90" y1="267.50" x2="296.50" y2="267.50" stroke="#999999" stroke-width="1" />
<text x="290" y="272.31999999999994" font-size="11" text-anchor="end" fill="#303030" font-weight="normal" >40</text>
<line x1="295.00" y1="251.50" x2="296.50" y2="251.50" stroke="#999999" stroke-width="1" />
<line x1="293.90" y1="235.50" x2="296.50" y2="235.50" stroke="#999999" stroke-width="1" />
<text x="290" y="239.7" font-size="11" text-anchor="end" fill="#303030" font-weight="normal" >50</text>
<line x1="295.50" y1="398.50" x2="295.50" y2="400.10" stroke="#999999" stroke-width="1" />
<line x1="304.50" y1="398.50" x2="304.50" y2="400.10" stroke="#999999" stroke-width="1" />
<line x1="312.50" y1="398.50" x2="312.50" y2="400.10" stroke="#999999" stroke-width="1" />
<line x1="321.50" y1="398.50" x2="321.50" y2="401.80" stroke="#999999" stroke-width="1" />
<line x1="330.50" y1="398.50" x2="330.50" y2="400.10" stroke="#999999" stroke-width="1" />
<line x1="338.50" y1="398.50" x2="338.50" y2="400.10" stroke="#999999" stroke-width="1" />
<line x1="347.50" y1="398.50" x2="347.50" y2="400.10" stroke="#999999" stroke-width="1" />
<line x1="355.50" y1="398.50" x2="355.50" y2="400.10" stroke="#999999" stroke-width="1" />
<line x1="364.50" y1="398.50" x2="364.50" y2="401.80" stroke="#999999" stroke-width="1" />
<line x1="373.50" y1="398.50" x2="373.50" y2="400.10" stroke="#999999" stroke-width="1" />
<line x1="381.50" y1="398.50" x2="381.50" y2="400.10" stroke="#999999" stroke-width="1" />
<line x1="390.50" y1="398.50" x2="390.50" y2="400.10" stroke="#999999" stroke-width="1" />
<line x1="398.50" y1="398.50" x2="398.50" y2="400.10" stroke="#999999" stroke-width="1" />
<line x1="407.50" y1="398.50" x2="407.50" y2="401.80" stroke="#999999" stroke-width="1" />
<line x1="416.50" y1="398.50" x2="416.50" y2="400.10" stroke="#999999" stroke-width="1" />
<line x1="424.50" y1="398.50" x2="424.50" y2="400.10" stroke="#999999" stroke-width="1" />
<line x1="433.50" y1="398.50" x2="433.50" y2="400.10" stroke="#999999" stroke-width="1" />
<line x1="441.50" y1="398.50" x2="441.50" y2="400.10" stroke="#999999" stroke-width="1" />
<line x1="450.50" y1="398.50" x2="450.50" y2="401.80" stroke="#999999" stroke-width="1" />
<text x="321.4" y="413.8" font-size="11" text-anchor="middle" fill="#303030" font-weight="normal" >200</text>
<text x="364.4" y="413.8" font-size="11" text-anchor="middle" fill="#303030" font-weight="normal" >250</text>
<text x="407.4" y="413.8" font-size="11" text-anchor="middle" fill="#303030" font-weight="normal" >300</text>
<text x="450.4" y="413.8" font-size="11" text-anchor="middle" fill="#303030" font-weight="normal" >350</text>
<text x="373.6" y="430" font-size="10.8" text-anchor="middle" fill="#303030" font-weight="normal" textLength="79.5" lengthAdjust="spacingAndGlyphs" >Temperature (K)</text>
<text x="0" y="0" font-size="10.8" text-anchor="middle" fill="#303030" font-weight="normal" transform="translate(269,316.5) rotate(-90)">Magnetization (e.m.u. cm<tspan font-size="7.5" dy="-4">−3</tspan><tspan dy="4">)</tspan></text>
<rect x="296.5" y="235.5" width="154.0" height="163.0" fill="none" stroke="#999999" stroke-width="1"/>
<clipPath id="clipd"><rect x="296.6" y="235.3" width="154.0" height="163.09999999999997"/></clipPath>
<g clip-path="url(#clipd)">
<polyline points="296.50,330.80 298.80,332.80 301.00,334.70 303.30,336.20 305.50,337.70 307.80,340.30 310.00,339.20 312.30,338.30 314.50,339.50 316.80,341.80 319.00,339.20 321.30,338.80 323.50,339.50 325.80,339.80 328.00,341.80 331.00,344.30 334.00,343.30 336.30,345.50 338.50,347.00 341.50,348.20 343.80,347.80 346.00,350.00 349.00,351.50 352.00,352.30 355.00,353.00 358.00,353.80 361.00,354.80 364.00,356.00 366.30,355.70 368.50,358.70 370.80,360.20 373.00,359.00 376.00,358.70 379.00,360.50 382.00,361.70 385.00,361.30 388.00,362.50 391.00,363.80 394.00,365.40 396.30,364.30 398.50,362.00 400.00,363.80 403.00,364.80 406.00,364.30 409.00,365.00 411.30,363.80 413.50,365.00 416.50,365.50 418.80,366.60 421.00,364.80 423.30,366.30 426.30,364.80 429.30,364.80 430.80,365.80 432.30,361.30 435.30,360.50 438.30,359.00 441.30,356.80 443.60,352.30 445.80,349.30 448.10,344.80 450.30,339.50" fill="none" stroke="#e1252f" stroke-width="1.6" stroke-linejoin="round" stroke-linecap="round" />
<polyline points="296.60,290.70 299.80,292.60 303.10,293.90 306.30,295.00 308.70,295.50 310.40,297.50 312.50,295.90 314.40,293.40 316.30,289.70 318.40,291.00 320.90,290.70 324.10,291.30 327.30,293.40 329.70,295.90 332.20,298.30 335.40,297.80 338.60,297.50 341.90,298.80 345.10,300.70 348.30,302.30 351.60,303.90 354.80,306.40 356.40,304.70 358.80,306.80 361.30,308.00 364.50,308.30 367.70,309.60 371.00,311.20 372.60,313.60 375.00,312.80 376.90,313.90 380.40,312.80 383.90,315.60 387.30,317.40 389.60,313.20 391.90,316.20 393.80,319.70 395.90,311.60 398.90,311.60 402.30,312.30 405.80,313.20 409.30,314.60 411.60,316.90 413.90,313.90 416.20,312.30 418.50,308.20 421.30,305.40 423.60,294.30 425.40,278.10 427.30,259.70 428.90,243.50 430.00,234.70" fill="none" stroke="#2d3f92" stroke-width="1.6" stroke-linejoin="round" stroke-linecap="round" />
</g>
<line x1="309.50" y1="235.90" x2="309.50" y2="398.40" stroke="#3d5aa6" stroke-width="1.2" stroke-dasharray="3.8,3.9"/>
<line x1="315.60" y1="235.90" x2="315.60" y2="398.40" stroke="#d9464d" stroke-width="1.2" stroke-dasharray="3.8,3.9"/>
<line x1="393.00" y1="235.90" x2="393.00" y2="398.40" stroke="#3d5aa6" stroke-width="1.2" stroke-dasharray="3.8,3.9"/>
<line x1="398.60" y1="235.90" x2="398.60" y2="398.40" stroke="#d9464d" stroke-width="1.2" stroke-dasharray="3.8,3.9"/>
<line x1="374.20" y1="300.70" x2="339.21" y2="289.99" stroke="#2d3f92" stroke-width="0.9" />
<polygon points="337.30,289.40 342.78,288.57 340.65,290.42 341.38,293.16" fill="#2d3f92"/>
<line x1="329.50" y1="357.20" x2="364.39" y2="368.20" stroke="#e1252f" stroke-width="0.9" />
<polygon points="366.30,368.80 360.81,369.59 362.96,367.75 362.25,365.01" fill="#e1252f"/>
<text x="340.2" y="282.6" font-size="10.7" text-anchor="start" fill="#42549e" font-weight="normal" textLength="35" lengthAdjust="spacingAndGlyphs" >Cooling</text>
<text x="322" y="381.8" font-size="10.7" text-anchor="start" fill="#d03a47" font-weight="normal" textLength="43.7" lengthAdjust="spacingAndGlyphs" >Warming</text>
<text x="471.4" y="237.3" font-size="12" text-anchor="start" fill="#111" font-weight="bold" >e</text>
<line x1="525.90" y1="398.50" x2="528.50" y2="398.50" stroke="#999999" stroke-width="1" />
<text x="521.3" y="402.49" font-size="11" text-anchor="end" fill="#303030" font-weight="normal" >−40</text>
<line x1="527.00" y1="377.50" x2="528.50" y2="377.50" stroke="#999999" stroke-width="1" />
<line x1="525.90" y1="357.50" x2="528.50" y2="357.50" stroke="#999999" stroke-width="1" />
<text x="521.3" y="361.77000000000004" font-size="11" text-anchor="end" fill="#303030" font-weight="normal" >−20</text>
<line x1="527.00" y1="337.50" x2="528.50" y2="337.50" stroke="#999999" stroke-width="1" />
<line x1="525.90" y1="316.50" x2="528.50" y2="316.50" stroke="#999999" stroke-width="1" />
<text x="521.3" y="321.05" font-size="11" text-anchor="end" fill="#303030" font-weight="normal" >0</text>
<line x1="527.00" y1="296.50" x2="528.50" y2="296.50" stroke="#999999" stroke-width="1" />
<line x1="525.90" y1="276.50" x2="528.50" y2="276.50" stroke="#999999" stroke-width="1" />
<text x="521.3" y="280.33" font-size="11" text-anchor="end" fill="#303030" font-weight="normal" >20</text>
<line x1="527.00" y1="255.50" x2="528.50" y2="255.50" stroke="#999999" stroke-width="1" />
<line x1="525.90" y1="235.50" x2="528.50" y2="235.50" stroke="#999999" stroke-width="1" />
<text x="521.3" y="239.61" font-size="11" text-anchor="end" fill="#303030" font-weight="normal" >40</text>
<line x1="528.50" y1="398.50" x2="528.50" y2="401.80" stroke="#999999" stroke-width="1" />
<line x1="535.50" y1="398.50" x2="535.50" y2="400.10" stroke="#999999" stroke-width="1" />
<line x1="543.50" y1="398.50" x2="543.50" y2="400.10" stroke="#999999" stroke-width="1" />
<line x1="551.50" y1="398.50" x2="551.50" y2="400.10" stroke="#999999" stroke-width="1" />
<line x1="559.50" y1="398.50" x2="559.50" y2="400.10" stroke="#999999" stroke-width="1" />
<line x1="566.50" y1="398.50" x2="566.50" y2="401.80" stroke="#999999" stroke-width="1" />
<line x1="574.50" y1="398.50" x2="574.50" y2="400.10" stroke="#999999" stroke-width="1" />
<line x1="582.50" y1="398.50" x2="582.50" y2="400.10" stroke="#999999" stroke-width="1" />
<line x1="589.50" y1="398.50" x2="589.50" y2="400.10" stroke="#999999" stroke-width="1" />
<line x1="597.50" y1="398.50" x2="597.50" y2="400.10" stroke="#999999" stroke-width="1" />
<line x1="605.50" y1="398.50" x2="605.50" y2="401.80" stroke="#999999" stroke-width="1" />
<line x1="612.50" y1="398.50" x2="612.50" y2="400.10" stroke="#999999" stroke-width="1" />
<line x1="620.50" y1="398.50" x2="620.50" y2="400.10" stroke="#999999" stroke-width="1" />
<line x1="628.50" y1="398.50" x2="628.50" y2="400.10" stroke="#999999" stroke-width="1" />
<line x1="635.50" y1="398.50" x2="635.50" y2="400.10" stroke="#999999" stroke-width="1" />
<line x1="643.50" y1="398.50" x2="643.50" y2="401.80" stroke="#999999" stroke-width="1" />
<line x1="651.50" y1="398.50" x2="651.50" y2="400.10" stroke="#999999" stroke-width="1" />
<line x1="658.50" y1="398.50" x2="658.50" y2="400.10" stroke="#999999" stroke-width="1" />
<line x1="666.50" y1="398.50" x2="666.50" y2="400.10" stroke="#999999" stroke-width="1" />
<line x1="674.50" y1="398.50" x2="674.50" y2="400.10" stroke="#999999" stroke-width="1" />
<line x1="681.50" y1="398.50" x2="681.50" y2="401.80" stroke="#999999" stroke-width="1" />
<text x="525.8000000000001" y="413.6" font-size="11" text-anchor="middle" fill="#303030" font-weight="normal" >−2</text>
<text x="564.2" y="413.6" font-size="11" text-anchor="middle" fill="#303030" font-weight="normal" >−1</text>
<text x="605.1" y="413.6" font-size="11" text-anchor="middle" fill="#303030" font-weight="normal" >0</text>
<text x="643.5" y="413.6" font-size="11" text-anchor="middle" fill="#303030" font-weight="normal" >1</text>
<text x="681.9" y="413.6" font-size="11" text-anchor="middle" fill="#303030" font-weight="normal" >2</text>
<text x="604.4" y="429.6" font-size="10.8" text-anchor="middle" fill="#303030" font-weight="normal" textLength="98" lengthAdjust="spacingAndGlyphs" >Magnetic field (kOe)</text>
<text x="0" y="0" font-size="10.6" text-anchor="middle" fill="#303030" font-weight="normal" textLength="71" lengthAdjust="spacingAndGlyphs" transform="translate(495.2,316.3) rotate(-90)">Ellipticity (a.u.)</text>
<line x1="528.50" y1="316.50" x2="681.50" y2="316.50" stroke="#b8b8b8" stroke-width="1" />
<line x1="605.50" y1="235.50" x2="605.50" y2="398.50" stroke="#a0a0a0" stroke-width="1" />
<rect x="528.5" y="235.5" width="153.0" height="163.0" fill="none" stroke="#999999" stroke-width="1"/>
<clipPath id="clipe"><rect x="528.3" y="235.3" width="153.5" height="162.89999999999998"/></clipPath>
<g clip-path="url(#clipe)">
<polyline points="527.50,315.40 529.57,315.77 531.63,316.16 533.69,316.54 535.77,316.91 537.86,317.27 540.00,317.60 542.16,317.90 544.33,318.17 546.53,318.43 548.77,318.68 551.05,318.93 553.40,319.20 555.83,319.49 558.33,319.80 560.88,320.11 563.46,320.40 566.04,320.67 568.60,320.90 571.13,321.08 573.66,321.23 576.19,321.35 578.74,321.45 581.30,321.53 583.90,321.60 586.43,321.66 588.86,321.70 591.32,321.73 593.91,321.73 596.77,321.73 600.00,321.70 603.81,321.66 608.16,321.61 612.76,321.54 617.34,321.46 621.65,321.34 625.40,321.20 628.52,321.03 631.22,320.84 633.64,320.63 635.91,320.39 638.18,320.11 640.60,319.80 643.16,319.44 645.76,319.02 648.36,318.57 650.92,318.11 653.41,317.65 655.80,317.20 658.05,316.77 660.17,316.34 662.22,315.91 664.26,315.48 666.34,315.04 668.50,314.60 670.76,314.14 673.07,313.68 675.42,313.21 677.79,312.74 680.15,312.27 682.50,311.80" fill="none" stroke="#2d3f92" stroke-width="1.5" stroke-linejoin="round" stroke-linecap="round" />
<polyline points="527.50,317.90 529.57,318.19 531.63,318.49 533.69,318.79 535.77,319.09 537.86,319.36 540.00,319.60 542.16,319.81 544.33,319.99 546.53,320.14 548.77,320.29 551.05,320.44 553.40,320.60 555.83,320.77 558.33,320.96 560.88,321.14 563.46,321.32 566.04,321.47 568.60,321.60 571.13,321.69 573.66,321.76 576.19,321.81 578.74,321.85 581.30,321.88 583.90,321.90 586.43,321.92 588.86,321.94 591.32,321.94 593.91,321.94 596.77,321.93 600.00,321.90 603.81,321.86 608.16,321.82 612.76,321.77 617.34,321.70 621.65,321.61 625.40,321.50 628.52,321.37 631.22,321.21 633.64,321.04 635.91,320.84 638.18,320.63 640.60,320.40 643.16,320.14 645.76,319.86 648.36,319.56 650.92,319.25 653.41,318.93 655.80,318.60 658.05,318.27 660.17,317.94 662.22,317.60 664.26,317.25 666.34,316.88 668.50,316.50 670.76,316.10 673.07,315.67 675.42,315.23 677.79,314.79 680.15,314.34 682.50,313.90" fill="none" stroke="#2d3f92" stroke-width="1.5" stroke-linejoin="round" stroke-linecap="round" />
<polyline points="527.50,379.81 528.31,378.03 529.13,378.52 529.95,377.82 530.76,377.45 531.58,377.12 532.40,376.18 533.21,376.32 534.01,375.73 534.81,376.59 535.60,375.27 536.38,374.71 537.15,374.35 537.91,373.86 538.67,373.37 539.43,373.20 540.18,373.09 540.93,372.50 541.68,372.48 542.44,371.74 543.20,371.41 543.97,371.46 544.74,370.76 545.51,370.04 546.28,369.73 547.05,369.54 547.82,369.53 548.59,368.44 549.36,367.99 550.13,367.89 550.90,366.83 551.67,366.50 552.45,366.31 553.23,365.66 554.01,364.94 554.79,364.53 555.56,362.89 556.32,363.44 557.06,362.23 557.79,361.41 558.50,361.38 559.19,360.90 559.86,359.94 560.52,359.14 561.17,358.85 561.81,358.20 562.43,358.00 563.04,357.15 563.64,356.32 564.22,355.92 564.80,354.84 565.36,353.92 565.90,353.65 566.42,352.92 566.93,351.94 567.42,351.02 567.92,350.56 568.41,348.97 568.90,349.13 569.40,348.27 569.90,346.81 570.42,346.48 570.94,345.29 571.47,344.91 572.00,343.16 572.53,342.58 573.05,342.14 573.57,341.36 574.06,339.47 574.54,339.09 575.00,338.50 575.43,337.41 575.84,337.29 576.24,335.71 576.61,335.44 576.98,334.29 577.34,334.29 577.70,333.13 578.06,332.27 578.43,331.09 578.80,331.30 579.18,330.19 579.57,329.32 579.96,328.55 580.34,327.42 580.73,326.21 581.12,325.25 581.50,324.34 581.87,324.09 582.24,322.34 582.60,321.72 582.95,320.93 583.30,320.23 583.63,319.47 583.97,318.06 584.29,317.06 584.62,316.73 584.94,316.25 585.26,315.28 585.58,314.28 585.90,313.30 586.21,312.68 586.52,311.72 586.82,311.25 587.12,309.98 587.42,309.48 587.72,308.64 588.02,308.07 588.34,307.20 588.66,307.13 589.00,306.05 589.35,305.27 589.72,303.41 590.10,303.12 590.49,302.24 590.89,301.78 591.28,300.16 591.67,300.43 592.06,299.67 592.44,298.26 592.80,297.71 593.15,297.15 593.48,296.82 593.80,296.45 594.11,296.35 594.42,295.18 594.73,294.99 595.05,294.35 595.38,294.38 595.73,293.65 596.10,293.41 596.49,292.27 596.89,292.14 597.30,291.57 597.73,291.91 598.16,291.31 598.60,290.69 599.05,290.33 599.50,290.31 599.95,289.67 600.40,289.32 600.84,289.50 601.27,289.88 601.69,288.89 602.11,288.63 602.54,288.29 602.99,288.08 603.46,288.46 603.97,288.36 604.51,287.88 605.10,287.70 605.74,287.31 606.43,286.97 607.17,286.08 607.93,286.00 608.72,285.75 609.52,285.05 610.33,284.71 611.13,284.17 611.93,283.90 612.70,283.86 613.46,283.09 614.22,282.77 614.98,282.67 615.74,282.23 616.50,282.16 617.26,280.64 618.02,281.15 618.78,280.37 619.54,280.20 620.30,280.05 621.06,279.78 621.82,279.45 622.58,278.87 623.34,279.00 624.10,278.13 624.86,277.87 625.62,277.84 626.38,277.12 627.14,277.60 627.90,276.91 628.66,276.88 629.42,275.83 630.18,275.32 630.94,275.08 631.70,274.83 632.46,274.02 633.22,273.90 633.98,273.37 634.74,273.46 635.50,272.40 636.26,272.55 637.02,271.69 637.78,271.26 638.54,271.00 639.30,270.53 640.06,270.60 640.82,270.54 641.58,269.95 642.34,269.74 643.10,269.69 643.86,268.92 644.62,268.52 645.38,268.01 646.14,267.23 646.89,267.55 647.65,266.41 648.41,266.75 649.17,266.16 649.94,266.12 650.70,265.38 651.47,264.77 652.24,264.74 653.01,264.08 653.78,263.80 654.55,263.48 655.32,263.04 656.09,262.65 656.86,262.08 657.63,261.90 658.40,260.96 659.16,261.20 659.93,260.55 660.69,260.92 661.45,260.64 662.21,259.35 662.96,259.66 663.72,259.26 664.48,258.66 665.24,258.80 666.00,258.16 666.75,257.42 667.50,257.52 668.24,257.20 668.98,256.92 669.72,256.16 670.47,256.35 671.22,256.02 672.00,255.09 672.79,254.87 673.60,254.68 674.44,254.16 675.30,254.49 676.17,253.66 677.07,252.92 677.97,252.62 678.88,252.47 679.79,252.80 680.70,251.69 681.60,251.41 682.50,251.15" fill="none" stroke="#e1252f" stroke-width="1.75" stroke-linejoin="round" stroke-linecap="round" />
<polyline points="527.50,382.80 528.31,382.68 529.13,382.96 529.95,382.38 530.76,381.42 531.58,381.64 532.40,381.18 533.21,381.14 534.01,380.34 534.81,380.63 535.60,380.37 536.37,380.52 537.11,379.91 537.83,379.75 538.55,378.92 539.27,379.83 540.00,378.35 540.74,379.01 541.52,378.31 542.34,377.86 543.20,377.60 544.11,377.24 545.07,377.17 546.07,376.62 547.09,376.67 548.14,375.23 549.20,375.33 550.26,374.60 551.32,374.64 552.37,373.31 553.40,373.40 554.42,373.12 555.44,372.16 556.46,372.45 557.48,371.76 558.51,371.55 559.53,371.08 560.55,370.03 561.57,369.62 562.58,369.32 563.60,369.12 564.61,368.67 565.62,367.70 566.63,367.22 567.64,366.66 568.65,366.21 569.66,365.79 570.67,365.31 571.68,365.45 572.69,364.16 573.70,363.71 574.72,363.43 575.74,362.51 576.76,362.20 577.78,361.82 578.80,361.56 579.82,360.43 580.84,360.73 581.86,359.69 582.88,359.31 583.90,358.95 584.92,358.31 585.96,357.82 587.01,356.91 588.06,356.20 589.11,355.64 590.14,354.59 591.15,354.60 592.14,353.37 593.09,352.61 594.00,353.02 594.87,351.80 595.70,350.94 596.50,351.32 597.28,350.15 598.03,350.06 598.77,348.99 599.50,348.67 600.23,347.76 600.96,347.21 601.70,347.01 602.45,346.80 603.21,346.61 603.96,346.65 604.72,345.18 605.46,345.35 606.20,344.43 606.91,344.13 607.60,343.28 608.27,342.83 608.90,342.57 609.50,341.96 610.08,341.84 610.63,341.14 611.15,341.24 611.66,340.41 612.15,339.91 612.63,339.69 613.10,338.97 613.55,338.25 614.00,337.67 614.44,337.08 614.86,336.85 615.26,336.15 615.65,335.40 616.03,334.90 616.40,333.85 616.76,333.50 617.11,332.25 617.46,332.40 617.80,331.33 618.13,330.64 618.45,330.04 618.75,329.11 619.04,328.27 619.33,327.93 619.62,326.83 619.90,325.74 620.19,325.37 620.49,323.95 620.80,324.20 621.12,322.89 621.43,322.21 621.75,322.14 622.07,321.37 622.40,320.02 622.73,319.42 623.06,318.80 623.40,318.21 623.75,316.87 624.10,316.14 624.46,315.62 624.83,314.46 625.20,313.71 625.58,312.75 625.97,311.31 626.36,310.47 626.74,309.02 627.13,308.84 627.52,308.44 627.90,306.87 628.28,306.76 628.66,305.90 629.04,304.81 629.42,304.06 629.80,303.34 630.18,302.32 630.56,301.75 630.94,301.09 631.32,300.54 631.70,299.84 632.07,298.62 632.44,298.33 632.80,297.09 633.16,296.51 633.52,295.91 633.89,295.03 634.26,294.24 634.66,293.60 635.07,292.59 635.50,291.80 635.95,291.18 636.42,290.77 636.90,289.69 637.39,289.53 637.89,288.26 638.41,286.55 638.94,286.55 639.48,286.42 640.04,285.16 640.60,284.27 641.18,283.37 641.78,283.25 642.40,282.36 643.03,281.48 643.67,280.62 644.32,280.14 644.96,279.19 645.61,277.84 646.26,277.72 646.90,276.85 647.53,276.11 648.15,275.75 648.77,274.93 649.40,273.46 650.02,274.24 650.65,273.53 651.29,272.63 651.94,272.01 652.61,271.63 653.30,270.61 654.01,270.52 654.74,269.78 655.49,269.17 656.25,268.42 657.02,267.92 657.80,267.89 658.58,267.40 659.36,266.60 660.13,265.90 660.90,265.14 661.66,265.11 662.42,264.89 663.18,263.45 663.94,263.83 664.70,262.37 665.46,262.47 666.22,262.24 666.98,261.28 667.74,260.79 668.50,260.86 669.27,260.61 670.04,259.76 670.82,259.85 671.60,258.76 672.37,259.07 673.15,258.14 673.91,257.75 674.66,257.45 675.39,256.97 676.10,257.05 676.79,256.82 677.46,255.99 678.11,255.48 678.75,254.89 679.38,254.74 680.00,254.70 680.62,254.40 681.24,254.14 681.87,253.89 682.50,253.75" fill="none" stroke="#e1252f" stroke-width="1.75" stroke-linejoin="round" stroke-linecap="round" />
</g>
<text x="678.6" y="290.3" font-size="10.8" text-anchor="end" fill="#d03a47" font-weight="normal" textLength="29" lengthAdjust="spacingAndGlyphs" >430 K</text>
<text x="678.6" y="336.7" font-size="10.8" text-anchor="end" fill="#42549e" font-weight="normal" textLength="28.6" lengthAdjust="spacingAndGlyphs" >300 K</text></svg></body></html>
